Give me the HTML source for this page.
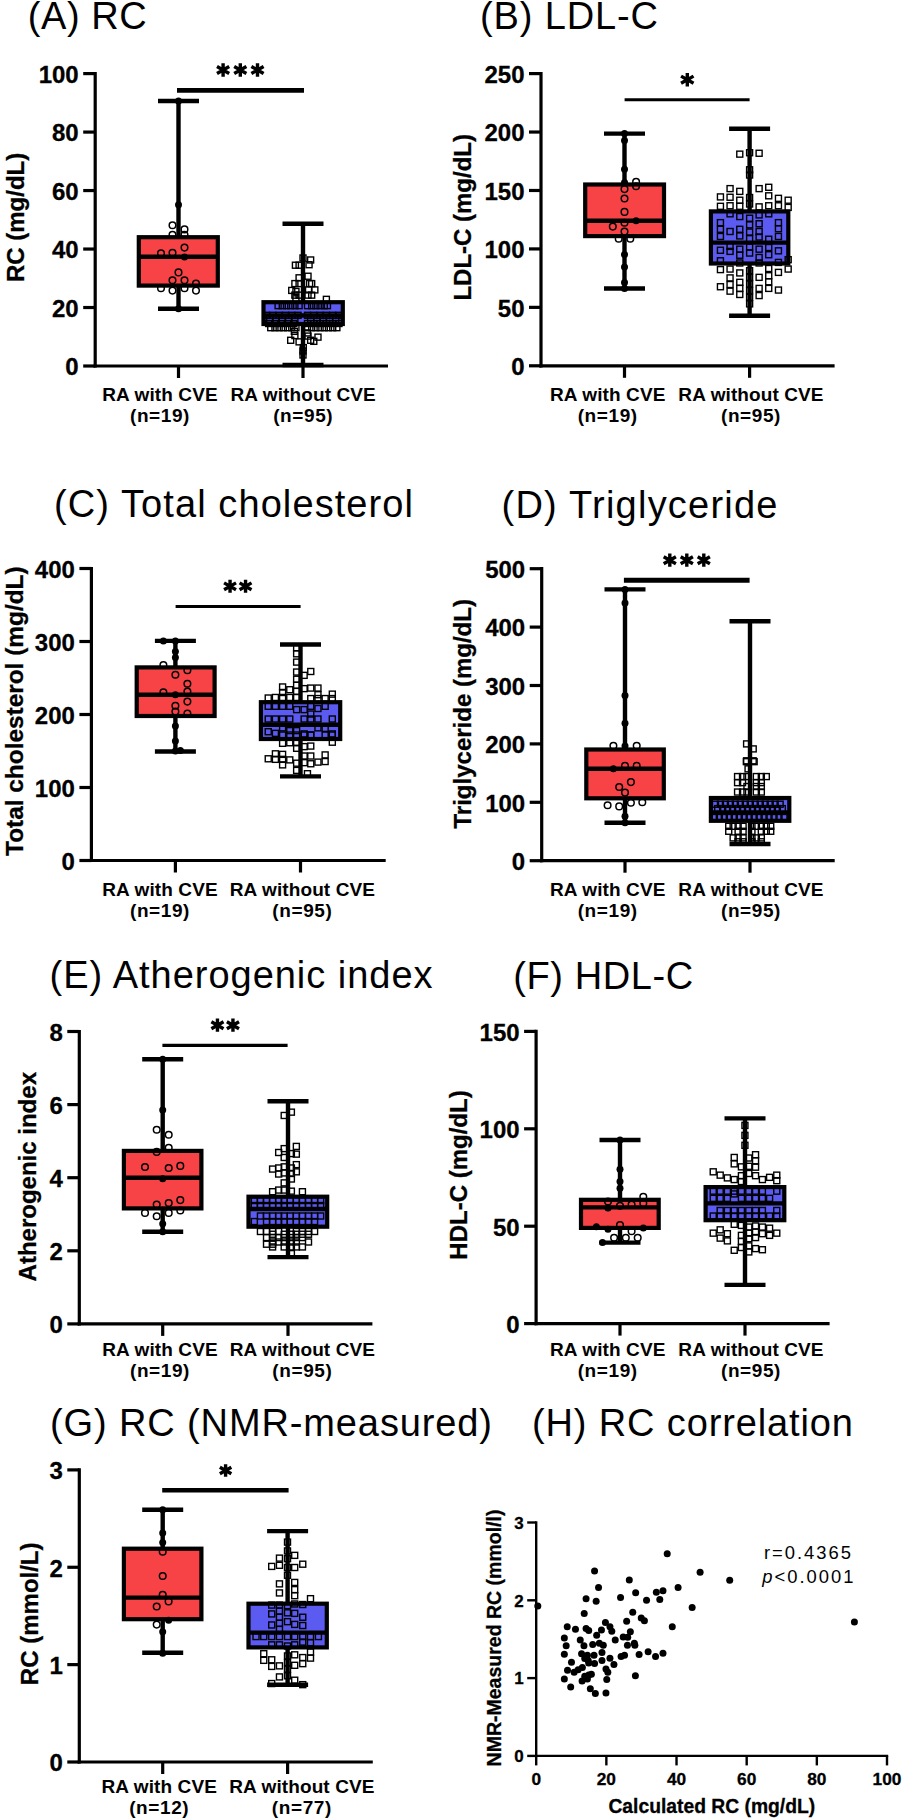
<!DOCTYPE html>
<html><head><meta charset="utf-8"><style>
html,body{margin:0;padding:0;background:#fff;}
svg{display:block;}
text{font-family:"Liberation Sans",sans-serif;fill:#000;}
text[font-weight=bold]{stroke:#000;stroke-width:0.3px;}
text.xl{stroke:none;}
</style></head><body>
<svg width="905" height="1820" viewBox="0 0 905 1820">
<rect width="905" height="1820" fill="#fff"/>
<text x="27.80" y="29.20" font-size="38" textLength="119.0" lengthAdjust="spacing">(A) RC</text>
<rect x="138.80" y="237.20" width="79.00" height="48.40" fill="#f74345"/>
<rect x="263.50" y="302.20" width="79.30" height="21.80" fill="#5b5bf2"/>
<circle cx="172.50" cy="225.30" r="3.3" fill="none" stroke="#000" stroke-width="1.5"/>
<circle cx="184.50" cy="229.40" r="3.3" fill="none" stroke="#000" stroke-width="1.5"/>
<circle cx="172.50" cy="234.80" r="3.3" fill="none" stroke="#000" stroke-width="1.5"/>
<circle cx="184.50" cy="234.80" r="3.3" fill="none" stroke="#000" stroke-width="1.5"/>
<circle cx="184.50" cy="247.60" r="3.3" fill="none" stroke="#000" stroke-width="1.5"/>
<circle cx="161.00" cy="253.30" r="3.3" fill="none" stroke="#000" stroke-width="1.5"/>
<circle cx="172.50" cy="252.70" r="3.3" fill="none" stroke="#000" stroke-width="1.5"/>
<circle cx="178.50" cy="272.40" r="3.3" fill="none" stroke="#000" stroke-width="1.5"/>
<circle cx="172.50" cy="280.30" r="3.3" fill="none" stroke="#000" stroke-width="1.5"/>
<circle cx="184.50" cy="280.30" r="3.3" fill="none" stroke="#000" stroke-width="1.5"/>
<circle cx="196.00" cy="283.60" r="3.3" fill="none" stroke="#000" stroke-width="1.5"/>
<circle cx="161.00" cy="288.20" r="3.3" fill="none" stroke="#000" stroke-width="1.5"/>
<circle cx="172.50" cy="290.60" r="3.3" fill="none" stroke="#000" stroke-width="1.5"/>
<circle cx="184.50" cy="288.20" r="3.3" fill="none" stroke="#000" stroke-width="1.5"/>
<circle cx="196.00" cy="290.60" r="3.3" fill="none" stroke="#000" stroke-width="1.5"/>
<circle cx="178.50" cy="101.00" r="3.5" fill="#000"/>
<circle cx="178.50" cy="204.80" r="3.5" fill="#000"/>
<circle cx="178.50" cy="308.70" r="3.5" fill="#000"/>
<circle cx="184.50" cy="257.10" r="3.5" fill="#000"/>
<rect x="307.64" y="256.97" width="6.0" height="6.0" fill="none" stroke="#000" stroke-width="1.4"/>
<rect x="292.42" y="262.22" width="6.0" height="6.0" fill="none" stroke="#000" stroke-width="1.4"/>
<rect x="296.09" y="262.22" width="6.0" height="6.0" fill="none" stroke="#000" stroke-width="1.4"/>
<rect x="306.06" y="261.70" width="6.0" height="6.0" fill="none" stroke="#000" stroke-width="1.4"/>
<rect x="296.09" y="274.82" width="6.0" height="6.0" fill="none" stroke="#000" stroke-width="1.4"/>
<rect x="305.01" y="273.24" width="6.0" height="6.0" fill="none" stroke="#000" stroke-width="1.4"/>
<rect x="291.89" y="280.59" width="6.0" height="6.0" fill="none" stroke="#000" stroke-width="1.4"/>
<rect x="296.09" y="280.59" width="6.0" height="6.0" fill="none" stroke="#000" stroke-width="1.4"/>
<rect x="306.59" y="280.59" width="6.0" height="6.0" fill="none" stroke="#000" stroke-width="1.4"/>
<rect x="308.69" y="280.59" width="6.0" height="6.0" fill="none" stroke="#000" stroke-width="1.4"/>
<rect x="288.74" y="287.42" width="6.0" height="6.0" fill="none" stroke="#000" stroke-width="1.4"/>
<rect x="292.94" y="288.47" width="6.0" height="6.0" fill="none" stroke="#000" stroke-width="1.4"/>
<rect x="305.54" y="286.89" width="6.0" height="6.0" fill="none" stroke="#000" stroke-width="1.4"/>
<rect x="311.84" y="286.89" width="6.0" height="6.0" fill="none" stroke="#000" stroke-width="1.4"/>
<rect x="291.89" y="292.14" width="6.0" height="6.0" fill="none" stroke="#000" stroke-width="1.4"/>
<rect x="296.09" y="292.14" width="6.0" height="6.0" fill="none" stroke="#000" stroke-width="1.4"/>
<rect x="305.01" y="292.14" width="6.0" height="6.0" fill="none" stroke="#000" stroke-width="1.4"/>
<rect x="308.69" y="292.14" width="6.0" height="6.0" fill="none" stroke="#000" stroke-width="1.4"/>
<rect x="292.94" y="295.81" width="6.0" height="6.0" fill="none" stroke="#000" stroke-width="1.4"/>
<rect x="323.38" y="296.34" width="6.0" height="6.0" fill="none" stroke="#000" stroke-width="1.4"/>
<rect x="291.37" y="328.36" width="6.0" height="6.0" fill="none" stroke="#000" stroke-width="1.4"/>
<rect x="304.49" y="329.93" width="6.0" height="6.0" fill="none" stroke="#000" stroke-width="1.4"/>
<rect x="291.89" y="332.56" width="6.0" height="6.0" fill="none" stroke="#000" stroke-width="1.4"/>
<rect x="305.01" y="333.08" width="6.0" height="6.0" fill="none" stroke="#000" stroke-width="1.4"/>
<rect x="287.69" y="337.28" width="6.0" height="6.0" fill="none" stroke="#000" stroke-width="1.4"/>
<rect x="296.09" y="338.85" width="6.0" height="6.0" fill="none" stroke="#000" stroke-width="1.4"/>
<rect x="307.64" y="337.28" width="6.0" height="6.0" fill="none" stroke="#000" stroke-width="1.4"/>
<rect x="314.99" y="334.13" width="6.0" height="6.0" fill="none" stroke="#000" stroke-width="1.4"/>
<rect x="310.79" y="338.33" width="6.0" height="6.0" fill="none" stroke="#000" stroke-width="1.4"/>
<rect x="300.29" y="344.63" width="6.0" height="6.0" fill="none" stroke="#000" stroke-width="1.4"/>
<rect x="275.09" y="302.64" width="6.0" height="6.0" fill="none" stroke="#000" stroke-width="1.4"/>
<rect x="279.29" y="302.64" width="6.0" height="6.0" fill="none" stroke="#000" stroke-width="1.4"/>
<rect x="283.49" y="302.64" width="6.0" height="6.0" fill="none" stroke="#000" stroke-width="1.4"/>
<rect x="287.69" y="302.64" width="6.0" height="6.0" fill="none" stroke="#000" stroke-width="1.4"/>
<rect x="291.89" y="302.64" width="6.0" height="6.0" fill="none" stroke="#000" stroke-width="1.4"/>
<rect x="296.09" y="302.64" width="6.0" height="6.0" fill="none" stroke="#000" stroke-width="1.4"/>
<rect x="304.49" y="302.64" width="6.0" height="6.0" fill="none" stroke="#000" stroke-width="1.4"/>
<rect x="308.69" y="302.64" width="6.0" height="6.0" fill="none" stroke="#000" stroke-width="1.4"/>
<rect x="312.89" y="302.64" width="6.0" height="6.0" fill="none" stroke="#000" stroke-width="1.4"/>
<rect x="317.09" y="302.64" width="6.0" height="6.0" fill="none" stroke="#000" stroke-width="1.4"/>
<rect x="321.28" y="302.64" width="6.0" height="6.0" fill="none" stroke="#000" stroke-width="1.4"/>
<rect x="324.43" y="302.64" width="6.0" height="6.0" fill="none" stroke="#000" stroke-width="1.4"/>
<rect x="263.55" y="312.29" width="6.0" height="6.0" fill="none" stroke="#000" stroke-width="1.4"/>
<rect x="269.85" y="312.29" width="6.0" height="6.0" fill="none" stroke="#000" stroke-width="1.4"/>
<rect x="276.14" y="312.29" width="6.0" height="6.0" fill="none" stroke="#000" stroke-width="1.4"/>
<rect x="282.44" y="312.29" width="6.0" height="6.0" fill="none" stroke="#000" stroke-width="1.4"/>
<rect x="288.74" y="312.29" width="6.0" height="6.0" fill="none" stroke="#000" stroke-width="1.4"/>
<rect x="295.04" y="312.29" width="6.0" height="6.0" fill="none" stroke="#000" stroke-width="1.4"/>
<rect x="304.49" y="312.29" width="6.0" height="6.0" fill="none" stroke="#000" stroke-width="1.4"/>
<rect x="310.79" y="312.29" width="6.0" height="6.0" fill="none" stroke="#000" stroke-width="1.4"/>
<rect x="317.09" y="312.29" width="6.0" height="6.0" fill="none" stroke="#000" stroke-width="1.4"/>
<rect x="323.38" y="312.29" width="6.0" height="6.0" fill="none" stroke="#000" stroke-width="1.4"/>
<rect x="329.68" y="312.29" width="6.0" height="6.0" fill="none" stroke="#000" stroke-width="1.4"/>
<rect x="335.98" y="312.29" width="6.0" height="6.0" fill="none" stroke="#000" stroke-width="1.4"/>
<rect x="266.70" y="316.28" width="6.0" height="6.0" fill="none" stroke="#000" stroke-width="1.4"/>
<rect x="273.00" y="316.28" width="6.0" height="6.0" fill="none" stroke="#000" stroke-width="1.4"/>
<rect x="279.29" y="316.28" width="6.0" height="6.0" fill="none" stroke="#000" stroke-width="1.4"/>
<rect x="285.59" y="316.28" width="6.0" height="6.0" fill="none" stroke="#000" stroke-width="1.4"/>
<rect x="291.89" y="316.28" width="6.0" height="6.0" fill="none" stroke="#000" stroke-width="1.4"/>
<rect x="307.64" y="316.28" width="6.0" height="6.0" fill="none" stroke="#000" stroke-width="1.4"/>
<rect x="313.94" y="316.28" width="6.0" height="6.0" fill="none" stroke="#000" stroke-width="1.4"/>
<rect x="320.23" y="316.28" width="6.0" height="6.0" fill="none" stroke="#000" stroke-width="1.4"/>
<rect x="326.53" y="316.28" width="6.0" height="6.0" fill="none" stroke="#000" stroke-width="1.4"/>
<rect x="332.83" y="316.28" width="6.0" height="6.0" fill="none" stroke="#000" stroke-width="1.4"/>
<rect x="265.65" y="320.48" width="6.0" height="6.0" fill="none" stroke="#000" stroke-width="1.4"/>
<rect x="271.95" y="320.48" width="6.0" height="6.0" fill="none" stroke="#000" stroke-width="1.4"/>
<rect x="278.24" y="320.48" width="6.0" height="6.0" fill="none" stroke="#000" stroke-width="1.4"/>
<rect x="284.54" y="320.48" width="6.0" height="6.0" fill="none" stroke="#000" stroke-width="1.4"/>
<rect x="290.84" y="320.48" width="6.0" height="6.0" fill="none" stroke="#000" stroke-width="1.4"/>
<rect x="304.49" y="320.48" width="6.0" height="6.0" fill="none" stroke="#000" stroke-width="1.4"/>
<rect x="310.79" y="320.48" width="6.0" height="6.0" fill="none" stroke="#000" stroke-width="1.4"/>
<rect x="317.09" y="320.48" width="6.0" height="6.0" fill="none" stroke="#000" stroke-width="1.4"/>
<rect x="323.38" y="320.48" width="6.0" height="6.0" fill="none" stroke="#000" stroke-width="1.4"/>
<rect x="329.68" y="320.48" width="6.0" height="6.0" fill="none" stroke="#000" stroke-width="1.4"/>
<rect x="335.98" y="320.48" width="6.0" height="6.0" fill="none" stroke="#000" stroke-width="1.4"/>
<rect x="267.75" y="324.68" width="6.0" height="6.0" fill="none" stroke="#000" stroke-width="1.4"/>
<rect x="271.95" y="324.68" width="6.0" height="6.0" fill="none" stroke="#000" stroke-width="1.4"/>
<rect x="276.14" y="324.68" width="6.0" height="6.0" fill="none" stroke="#000" stroke-width="1.4"/>
<rect x="280.34" y="324.68" width="6.0" height="6.0" fill="none" stroke="#000" stroke-width="1.4"/>
<rect x="284.54" y="324.68" width="6.0" height="6.0" fill="none" stroke="#000" stroke-width="1.4"/>
<rect x="288.74" y="324.68" width="6.0" height="6.0" fill="none" stroke="#000" stroke-width="1.4"/>
<rect x="292.94" y="324.68" width="6.0" height="6.0" fill="none" stroke="#000" stroke-width="1.4"/>
<rect x="304.49" y="324.68" width="6.0" height="6.0" fill="none" stroke="#000" stroke-width="1.4"/>
<rect x="308.69" y="324.68" width="6.0" height="6.0" fill="none" stroke="#000" stroke-width="1.4"/>
<rect x="312.89" y="324.68" width="6.0" height="6.0" fill="none" stroke="#000" stroke-width="1.4"/>
<rect x="317.09" y="324.68" width="6.0" height="6.0" fill="none" stroke="#000" stroke-width="1.4"/>
<rect x="321.28" y="324.68" width="6.0" height="6.0" fill="none" stroke="#000" stroke-width="1.4"/>
<rect x="325.48" y="324.68" width="6.0" height="6.0" fill="none" stroke="#000" stroke-width="1.4"/>
<rect x="329.68" y="324.68" width="6.0" height="6.0" fill="none" stroke="#000" stroke-width="1.4"/>
<rect x="333.88" y="324.68" width="6.0" height="6.0" fill="none" stroke="#000" stroke-width="1.4"/>
<rect x="300.00" y="348.00" width="6.0" height="6.0" fill="none" stroke="#000" stroke-width="1.4"/>
<rect x="300.00" y="352.00" width="6.0" height="6.0" fill="none" stroke="#000" stroke-width="1.4"/>
<rect x="300.00" y="255.00" width="6.0" height="6.0" fill="none" stroke="#000" stroke-width="1.4"/>
<rect x="138.80" y="237.20" width="79.00" height="48.40" fill="none" stroke="#000" stroke-width="4.2"/>
<line x1="138.80" y1="256.70" x2="217.80" y2="256.70" stroke="#000" stroke-width="4.4" stroke-linecap="butt"/>
<line x1="178.50" y1="101.00" x2="178.50" y2="237.20" stroke="#000" stroke-width="4.4" stroke-linecap="butt"/>
<line x1="178.50" y1="285.60" x2="178.50" y2="308.70" stroke="#000" stroke-width="4.4" stroke-linecap="butt"/>
<line x1="158.00" y1="101.00" x2="199.00" y2="101.00" stroke="#000" stroke-width="4.4" stroke-linecap="butt"/>
<line x1="158.00" y1="308.70" x2="199.00" y2="308.70" stroke="#000" stroke-width="4.4" stroke-linecap="butt"/>
<rect x="263.50" y="302.20" width="79.30" height="21.80" fill="none" stroke="#000" stroke-width="4.2"/>
<line x1="263.50" y1="315.50" x2="342.80" y2="315.50" stroke="#000" stroke-width="4.4" stroke-linecap="butt"/>
<line x1="303.00" y1="223.70" x2="303.00" y2="302.20" stroke="#000" stroke-width="4.4" stroke-linecap="butt"/>
<line x1="303.00" y1="324.00" x2="303.00" y2="365.00" stroke="#000" stroke-width="4.4" stroke-linecap="butt"/>
<line x1="282.50" y1="223.70" x2="323.50" y2="223.70" stroke="#000" stroke-width="4.4" stroke-linecap="butt"/>
<line x1="282.50" y1="365.00" x2="323.50" y2="365.00" stroke="#000" stroke-width="4.4" stroke-linecap="butt"/>
<line x1="95.20" y1="72.00" x2="95.20" y2="367.60" stroke="#000" stroke-width="3.2" stroke-linecap="butt"/>
<line x1="93.60" y1="366.00" x2="388.00" y2="366.00" stroke="#000" stroke-width="3.2" stroke-linecap="butt"/>
<line x1="83.20" y1="366.00" x2="95.20" y2="366.00" stroke="#000" stroke-width="3.2" stroke-linecap="butt"/>
<text x="78.70" y="375.36" font-size="24" font-weight="bold" text-anchor="end" >0</text>
<line x1="83.20" y1="307.52" x2="95.20" y2="307.52" stroke="#000" stroke-width="3.2" stroke-linecap="butt"/>
<text x="78.70" y="316.88" font-size="24" font-weight="bold" text-anchor="end" >20</text>
<line x1="83.20" y1="249.04" x2="95.20" y2="249.04" stroke="#000" stroke-width="3.2" stroke-linecap="butt"/>
<text x="78.70" y="258.40" font-size="24" font-weight="bold" text-anchor="end" >40</text>
<line x1="83.20" y1="190.56" x2="95.20" y2="190.56" stroke="#000" stroke-width="3.2" stroke-linecap="butt"/>
<text x="78.70" y="199.92" font-size="24" font-weight="bold" text-anchor="end" >60</text>
<line x1="83.20" y1="132.08" x2="95.20" y2="132.08" stroke="#000" stroke-width="3.2" stroke-linecap="butt"/>
<text x="78.70" y="141.44" font-size="24" font-weight="bold" text-anchor="end" >80</text>
<line x1="83.20" y1="73.60" x2="95.20" y2="73.60" stroke="#000" stroke-width="3.2" stroke-linecap="butt"/>
<text x="78.70" y="82.96" font-size="24" font-weight="bold" text-anchor="end" >100</text>
<line x1="178.50" y1="366.00" x2="178.50" y2="378.00" stroke="#000" stroke-width="3.2" stroke-linecap="butt"/>
<line x1="303.00" y1="366.00" x2="303.00" y2="378.00" stroke="#000" stroke-width="3.2" stroke-linecap="butt"/>
<text x="24.10" y="217.40" font-size="24" font-weight="bold" text-anchor="middle" transform="rotate(-90 24.10 217.40)">RC (mg/dL)</text>
<text x="160.00" y="401.30" font-size="19" font-weight="bold" text-anchor="middle" class="xl" letter-spacing="0.1">RA with CVE</text>
<text x="160.00" y="422.30" font-size="19" font-weight="bold" text-anchor="middle" class="xl" letter-spacing="0.6">(n=19)</text>
<text x="303.20" y="401.30" font-size="19" font-weight="bold" text-anchor="middle" class="xl" letter-spacing="0.1">RA without CVE</text>
<text x="303.20" y="422.30" font-size="19" font-weight="bold" text-anchor="middle" class="xl" letter-spacing="0.6">(n=95)</text>
<line x1="177.00" y1="90.40" x2="304.00" y2="90.40" stroke="#000" stroke-width="4.6" stroke-linecap="butt"/>
<path d="M223.10,63.35L223.10,76.65M217.00,66.48L229.20,73.52M217.00,73.52L229.20,66.48" stroke="#000" stroke-width="3.4" fill="none"/>
<path d="M240.30,63.35L240.30,76.65M234.20,66.48L246.40,73.52M234.20,73.52L246.40,66.48" stroke="#000" stroke-width="3.4" fill="none"/>
<path d="M257.50,63.35L257.50,76.65M251.40,66.48L263.60,73.52M251.40,73.52L263.60,66.48" stroke="#000" stroke-width="3.4" fill="none"/>
<text x="480.00" y="28.50" font-size="38" textLength="178.0" lengthAdjust="spacing">(B) LDL-C</text>
<rect x="585.20" y="184.50" width="78.80" height="51.60" fill="#f74345"/>
<rect x="710.90" y="211.40" width="77.40" height="52.10" fill="#5b5bf2"/>
<circle cx="624.50" cy="189.10" r="3.3" fill="none" stroke="#000" stroke-width="1.5"/>
<circle cx="624.50" cy="198.50" r="3.3" fill="none" stroke="#000" stroke-width="1.5"/>
<circle cx="624.50" cy="211.90" r="3.3" fill="none" stroke="#000" stroke-width="1.5"/>
<circle cx="624.50" cy="222.80" r="3.3" fill="none" stroke="#000" stroke-width="1.5"/>
<circle cx="612.80" cy="226.60" r="3.3" fill="none" stroke="#000" stroke-width="1.5"/>
<circle cx="624.50" cy="231.60" r="3.3" fill="none" stroke="#000" stroke-width="1.5"/>
<circle cx="636.10" cy="181.90" r="3.3" fill="none" stroke="#000" stroke-width="1.5"/>
<circle cx="636.10" cy="186.30" r="3.3" fill="none" stroke="#000" stroke-width="1.5"/>
<circle cx="618.70" cy="238.80" r="3.3" fill="none" stroke="#000" stroke-width="1.5"/>
<circle cx="630.30" cy="238.80" r="3.3" fill="none" stroke="#000" stroke-width="1.5"/>
<circle cx="624.50" cy="133.60" r="3.5" fill="#000"/>
<circle cx="624.50" cy="140.40" r="3.5" fill="#000"/>
<circle cx="624.50" cy="169.20" r="3.5" fill="#000"/>
<circle cx="624.50" cy="254.60" r="3.5" fill="#000"/>
<circle cx="624.50" cy="267.00" r="3.5" fill="#000"/>
<circle cx="624.50" cy="282.40" r="3.5" fill="#000"/>
<circle cx="624.50" cy="288.50" r="3.5" fill="#000"/>
<circle cx="624.50" cy="182.40" r="3.5" fill="#000"/>
<circle cx="636.10" cy="220.80" r="3.5" fill="#000"/>
<rect x="736.78" y="151.14" width="6.0" height="6.0" fill="none" stroke="#000" stroke-width="1.4"/>
<rect x="756.12" y="150.26" width="6.0" height="6.0" fill="none" stroke="#000" stroke-width="1.4"/>
<rect x="727.06" y="185.62" width="6.0" height="6.0" fill="none" stroke="#000" stroke-width="1.4"/>
<rect x="736.78" y="188.38" width="6.0" height="6.0" fill="none" stroke="#000" stroke-width="1.4"/>
<rect x="756.12" y="185.62" width="6.0" height="6.0" fill="none" stroke="#000" stroke-width="1.4"/>
<rect x="765.73" y="184.29" width="6.0" height="6.0" fill="none" stroke="#000" stroke-width="1.4"/>
<rect x="717.44" y="193.91" width="6.0" height="6.0" fill="none" stroke="#000" stroke-width="1.4"/>
<rect x="727.06" y="194.24" width="6.0" height="6.0" fill="none" stroke="#000" stroke-width="1.4"/>
<rect x="736.78" y="197.22" width="6.0" height="6.0" fill="none" stroke="#000" stroke-width="1.4"/>
<rect x="765.73" y="192.80" width="6.0" height="6.0" fill="none" stroke="#000" stroke-width="1.4"/>
<rect x="775.45" y="195.34" width="6.0" height="6.0" fill="none" stroke="#000" stroke-width="1.4"/>
<rect x="785.18" y="197.22" width="6.0" height="6.0" fill="none" stroke="#000" stroke-width="1.4"/>
<rect x="717.44" y="203.30" width="6.0" height="6.0" fill="none" stroke="#000" stroke-width="1.4"/>
<rect x="727.06" y="202.75" width="6.0" height="6.0" fill="none" stroke="#000" stroke-width="1.4"/>
<rect x="736.78" y="203.30" width="6.0" height="6.0" fill="none" stroke="#000" stroke-width="1.4"/>
<rect x="756.12" y="203.85" width="6.0" height="6.0" fill="none" stroke="#000" stroke-width="1.4"/>
<rect x="765.73" y="202.75" width="6.0" height="6.0" fill="none" stroke="#000" stroke-width="1.4"/>
<rect x="775.45" y="202.75" width="6.0" height="6.0" fill="none" stroke="#000" stroke-width="1.4"/>
<rect x="785.18" y="204.40" width="6.0" height="6.0" fill="none" stroke="#000" stroke-width="1.4"/>
<rect x="717.44" y="219.65" width="6.0" height="6.0" fill="none" stroke="#000" stroke-width="1.4"/>
<rect x="717.44" y="226.28" width="6.0" height="6.0" fill="none" stroke="#000" stroke-width="1.4"/>
<rect x="717.44" y="233.46" width="6.0" height="6.0" fill="none" stroke="#000" stroke-width="1.4"/>
<rect x="717.44" y="247.28" width="6.0" height="6.0" fill="none" stroke="#000" stroke-width="1.4"/>
<rect x="717.44" y="257.77" width="6.0" height="6.0" fill="none" stroke="#000" stroke-width="1.4"/>
<rect x="727.06" y="210.81" width="6.0" height="6.0" fill="none" stroke="#000" stroke-width="1.4"/>
<rect x="727.06" y="228.49" width="6.0" height="6.0" fill="none" stroke="#000" stroke-width="1.4"/>
<rect x="727.06" y="248.38" width="6.0" height="6.0" fill="none" stroke="#000" stroke-width="1.4"/>
<rect x="727.06" y="243.41" width="6.0" height="6.0" fill="none" stroke="#000" stroke-width="1.4"/>
<rect x="736.78" y="213.57" width="6.0" height="6.0" fill="none" stroke="#000" stroke-width="1.4"/>
<rect x="736.78" y="226.28" width="6.0" height="6.0" fill="none" stroke="#000" stroke-width="1.4"/>
<rect x="736.78" y="232.91" width="6.0" height="6.0" fill="none" stroke="#000" stroke-width="1.4"/>
<rect x="736.78" y="246.17" width="6.0" height="6.0" fill="none" stroke="#000" stroke-width="1.4"/>
<rect x="736.78" y="252.25" width="6.0" height="6.0" fill="none" stroke="#000" stroke-width="1.4"/>
<rect x="736.78" y="259.98" width="6.0" height="6.0" fill="none" stroke="#000" stroke-width="1.4"/>
<rect x="746.61" y="215.23" width="6.0" height="6.0" fill="none" stroke="#000" stroke-width="1.4"/>
<rect x="746.61" y="221.86" width="6.0" height="6.0" fill="none" stroke="#000" stroke-width="1.4"/>
<rect x="746.61" y="229.04" width="6.0" height="6.0" fill="none" stroke="#000" stroke-width="1.4"/>
<rect x="746.61" y="235.67" width="6.0" height="6.0" fill="none" stroke="#000" stroke-width="1.4"/>
<rect x="746.61" y="243.96" width="6.0" height="6.0" fill="none" stroke="#000" stroke-width="1.4"/>
<rect x="746.61" y="250.04" width="6.0" height="6.0" fill="none" stroke="#000" stroke-width="1.4"/>
<rect x="756.12" y="211.92" width="6.0" height="6.0" fill="none" stroke="#000" stroke-width="1.4"/>
<rect x="756.12" y="220.76" width="6.0" height="6.0" fill="none" stroke="#000" stroke-width="1.4"/>
<rect x="756.12" y="228.49" width="6.0" height="6.0" fill="none" stroke="#000" stroke-width="1.4"/>
<rect x="756.12" y="234.02" width="6.0" height="6.0" fill="none" stroke="#000" stroke-width="1.4"/>
<rect x="756.12" y="246.17" width="6.0" height="6.0" fill="none" stroke="#000" stroke-width="1.4"/>
<rect x="756.12" y="254.46" width="6.0" height="6.0" fill="none" stroke="#000" stroke-width="1.4"/>
<rect x="756.12" y="259.98" width="6.0" height="6.0" fill="none" stroke="#000" stroke-width="1.4"/>
<rect x="765.73" y="210.81" width="6.0" height="6.0" fill="none" stroke="#000" stroke-width="1.4"/>
<rect x="765.73" y="236.23" width="6.0" height="6.0" fill="none" stroke="#000" stroke-width="1.4"/>
<rect x="765.73" y="244.51" width="6.0" height="6.0" fill="none" stroke="#000" stroke-width="1.4"/>
<rect x="765.73" y="251.70" width="6.0" height="6.0" fill="none" stroke="#000" stroke-width="1.4"/>
<rect x="775.45" y="219.65" width="6.0" height="6.0" fill="none" stroke="#000" stroke-width="1.4"/>
<rect x="775.45" y="225.73" width="6.0" height="6.0" fill="none" stroke="#000" stroke-width="1.4"/>
<rect x="775.45" y="233.46" width="6.0" height="6.0" fill="none" stroke="#000" stroke-width="1.4"/>
<rect x="775.45" y="247.83" width="6.0" height="6.0" fill="none" stroke="#000" stroke-width="1.4"/>
<rect x="775.45" y="259.43" width="6.0" height="6.0" fill="none" stroke="#000" stroke-width="1.4"/>
<rect x="785.18" y="256.67" width="6.0" height="6.0" fill="none" stroke="#000" stroke-width="1.4"/>
<rect x="717.44" y="266.61" width="6.0" height="6.0" fill="none" stroke="#000" stroke-width="1.4"/>
<rect x="717.44" y="283.74" width="6.0" height="6.0" fill="none" stroke="#000" stroke-width="1.4"/>
<rect x="727.06" y="266.06" width="6.0" height="6.0" fill="none" stroke="#000" stroke-width="1.4"/>
<rect x="727.06" y="274.90" width="6.0" height="6.0" fill="none" stroke="#000" stroke-width="1.4"/>
<rect x="727.06" y="281.53" width="6.0" height="6.0" fill="none" stroke="#000" stroke-width="1.4"/>
<rect x="727.06" y="288.16" width="6.0" height="6.0" fill="none" stroke="#000" stroke-width="1.4"/>
<rect x="736.78" y="269.93" width="6.0" height="6.0" fill="none" stroke="#000" stroke-width="1.4"/>
<rect x="736.78" y="279.32" width="6.0" height="6.0" fill="none" stroke="#000" stroke-width="1.4"/>
<rect x="736.78" y="285.40" width="6.0" height="6.0" fill="none" stroke="#000" stroke-width="1.4"/>
<rect x="736.78" y="291.48" width="6.0" height="6.0" fill="none" stroke="#000" stroke-width="1.4"/>
<rect x="756.12" y="274.35" width="6.0" height="6.0" fill="none" stroke="#000" stroke-width="1.4"/>
<rect x="756.12" y="285.40" width="6.0" height="6.0" fill="none" stroke="#000" stroke-width="1.4"/>
<rect x="756.12" y="292.58" width="6.0" height="6.0" fill="none" stroke="#000" stroke-width="1.4"/>
<rect x="765.73" y="265.51" width="6.0" height="6.0" fill="none" stroke="#000" stroke-width="1.4"/>
<rect x="765.73" y="272.69" width="6.0" height="6.0" fill="none" stroke="#000" stroke-width="1.4"/>
<rect x="765.73" y="278.77" width="6.0" height="6.0" fill="none" stroke="#000" stroke-width="1.4"/>
<rect x="765.73" y="285.40" width="6.0" height="6.0" fill="none" stroke="#000" stroke-width="1.4"/>
<rect x="775.45" y="269.38" width="6.0" height="6.0" fill="none" stroke="#000" stroke-width="1.4"/>
<rect x="775.45" y="287.06" width="6.0" height="6.0" fill="none" stroke="#000" stroke-width="1.4"/>
<rect x="785.18" y="266.06" width="6.0" height="6.0" fill="none" stroke="#000" stroke-width="1.4"/>
<rect x="746.61" y="267.72" width="6.0" height="6.0" fill="none" stroke="#000" stroke-width="1.4"/>
<rect x="746.61" y="274.35" width="6.0" height="6.0" fill="none" stroke="#000" stroke-width="1.4"/>
<rect x="746.61" y="280.98" width="6.0" height="6.0" fill="none" stroke="#000" stroke-width="1.4"/>
<rect x="746.61" y="287.61" width="6.0" height="6.0" fill="none" stroke="#000" stroke-width="1.4"/>
<rect x="746.61" y="294.24" width="6.0" height="6.0" fill="none" stroke="#000" stroke-width="1.4"/>
<rect x="746.61" y="300.87" width="6.0" height="6.0" fill="none" stroke="#000" stroke-width="1.4"/>
<rect x="746.60" y="149.70" width="6.0" height="6.0" fill="none" stroke="#000" stroke-width="1.4"/>
<rect x="746.60" y="166.80" width="6.0" height="6.0" fill="none" stroke="#000" stroke-width="1.4"/>
<rect x="746.60" y="172.00" width="6.0" height="6.0" fill="none" stroke="#000" stroke-width="1.4"/>
<rect x="746.60" y="194.50" width="6.0" height="6.0" fill="none" stroke="#000" stroke-width="1.4"/>
<rect x="746.60" y="201.00" width="6.0" height="6.0" fill="none" stroke="#000" stroke-width="1.4"/>
<rect x="585.20" y="184.50" width="78.80" height="51.60" fill="none" stroke="#000" stroke-width="4.2"/>
<line x1="585.20" y1="220.80" x2="664.00" y2="220.80" stroke="#000" stroke-width="4.4" stroke-linecap="butt"/>
<line x1="624.50" y1="133.60" x2="624.50" y2="184.50" stroke="#000" stroke-width="4.4" stroke-linecap="butt"/>
<line x1="624.50" y1="236.10" x2="624.50" y2="288.50" stroke="#000" stroke-width="4.4" stroke-linecap="butt"/>
<line x1="604.00" y1="133.60" x2="645.00" y2="133.60" stroke="#000" stroke-width="4.4" stroke-linecap="butt"/>
<line x1="604.00" y1="288.50" x2="645.00" y2="288.50" stroke="#000" stroke-width="4.4" stroke-linecap="butt"/>
<rect x="710.90" y="211.40" width="77.40" height="52.10" fill="none" stroke="#000" stroke-width="4.2"/>
<line x1="710.90" y1="242.60" x2="788.30" y2="242.60" stroke="#000" stroke-width="4.4" stroke-linecap="butt"/>
<line x1="749.60" y1="128.80" x2="749.60" y2="211.40" stroke="#000" stroke-width="4.4" stroke-linecap="butt"/>
<line x1="749.60" y1="263.50" x2="749.60" y2="315.80" stroke="#000" stroke-width="4.4" stroke-linecap="butt"/>
<line x1="729.10" y1="128.80" x2="770.10" y2="128.80" stroke="#000" stroke-width="4.4" stroke-linecap="butt"/>
<line x1="729.10" y1="315.80" x2="770.10" y2="315.80" stroke="#000" stroke-width="4.4" stroke-linecap="butt"/>
<line x1="541.00" y1="72.00" x2="541.00" y2="367.40" stroke="#000" stroke-width="3.2" stroke-linecap="butt"/>
<line x1="539.40" y1="365.80" x2="834.60" y2="365.80" stroke="#000" stroke-width="3.2" stroke-linecap="butt"/>
<line x1="529.00" y1="365.80" x2="541.00" y2="365.80" stroke="#000" stroke-width="3.2" stroke-linecap="butt"/>
<text x="524.50" y="375.16" font-size="24" font-weight="bold" text-anchor="end" >0</text>
<line x1="529.00" y1="307.36" x2="541.00" y2="307.36" stroke="#000" stroke-width="3.2" stroke-linecap="butt"/>
<text x="524.50" y="316.72" font-size="24" font-weight="bold" text-anchor="end" >50</text>
<line x1="529.00" y1="248.92" x2="541.00" y2="248.92" stroke="#000" stroke-width="3.2" stroke-linecap="butt"/>
<text x="524.50" y="258.28" font-size="24" font-weight="bold" text-anchor="end" >100</text>
<line x1="529.00" y1="190.48" x2="541.00" y2="190.48" stroke="#000" stroke-width="3.2" stroke-linecap="butt"/>
<text x="524.50" y="199.84" font-size="24" font-weight="bold" text-anchor="end" >150</text>
<line x1="529.00" y1="132.04" x2="541.00" y2="132.04" stroke="#000" stroke-width="3.2" stroke-linecap="butt"/>
<text x="524.50" y="141.40" font-size="24" font-weight="bold" text-anchor="end" >200</text>
<line x1="529.00" y1="73.60" x2="541.00" y2="73.60" stroke="#000" stroke-width="3.2" stroke-linecap="butt"/>
<text x="524.50" y="82.96" font-size="24" font-weight="bold" text-anchor="end" >250</text>
<line x1="624.50" y1="365.80" x2="624.50" y2="377.80" stroke="#000" stroke-width="3.2" stroke-linecap="butt"/>
<line x1="749.60" y1="365.80" x2="749.60" y2="377.80" stroke="#000" stroke-width="3.2" stroke-linecap="butt"/>
<text x="471.50" y="217.30" font-size="24" font-weight="bold" text-anchor="middle" transform="rotate(-90 471.50 217.30)">LDL-C (mg/dL)</text>
<text x="607.70" y="401.00" font-size="19" font-weight="bold" text-anchor="middle" class="xl" letter-spacing="0.1">RA with CVE</text>
<text x="607.70" y="422.10" font-size="19" font-weight="bold" text-anchor="middle" class="xl" letter-spacing="0.6">(n=19)</text>
<text x="751.00" y="401.00" font-size="19" font-weight="bold" text-anchor="middle" class="xl" letter-spacing="0.1">RA without CVE</text>
<text x="751.00" y="422.10" font-size="19" font-weight="bold" text-anchor="middle" class="xl" letter-spacing="0.6">(n=95)</text>
<line x1="624.60" y1="99.80" x2="749.60" y2="99.80" stroke="#000" stroke-width="3.0" stroke-linecap="butt"/>
<path d="M687.30,72.90L687.30,86.50M681.06,76.10L693.54,83.30M681.06,83.30L693.54,76.10" stroke="#000" stroke-width="3.4" fill="none"/>
<text x="54.00" y="517.00" font-size="38" textLength="359.0" lengthAdjust="spacing">(C) Total cholesterol</text>
<rect x="136.70" y="667.40" width="77.90" height="48.60" fill="#f74345"/>
<rect x="260.90" y="702.20" width="79.30" height="36.80" fill="#5b5bf2"/>
<circle cx="163.40" cy="665.00" r="3.3" fill="none" stroke="#000" stroke-width="1.5"/>
<circle cx="187.40" cy="670.30" r="3.3" fill="none" stroke="#000" stroke-width="1.5"/>
<circle cx="175.40" cy="674.70" r="3.3" fill="none" stroke="#000" stroke-width="1.5"/>
<circle cx="163.40" cy="692.20" r="3.3" fill="none" stroke="#000" stroke-width="1.5"/>
<circle cx="187.40" cy="691.60" r="3.3" fill="none" stroke="#000" stroke-width="1.5"/>
<circle cx="187.40" cy="701.60" r="3.3" fill="none" stroke="#000" stroke-width="1.5"/>
<circle cx="175.40" cy="705.70" r="3.3" fill="none" stroke="#000" stroke-width="1.5"/>
<circle cx="175.40" cy="711.50" r="3.3" fill="none" stroke="#000" stroke-width="1.5"/>
<circle cx="187.40" cy="713.50" r="3.3" fill="none" stroke="#000" stroke-width="1.5"/>
<circle cx="187.40" cy="683.80" r="3.3" fill="none" stroke="#000" stroke-width="1.5"/>
<circle cx="175.40" cy="640.90" r="3.5" fill="#000"/>
<circle cx="163.40" cy="640.90" r="3.5" fill="#000"/>
<circle cx="175.40" cy="651.40" r="3.5" fill="#000"/>
<circle cx="175.40" cy="657.40" r="3.5" fill="#000"/>
<circle cx="175.40" cy="694.80" r="3.5" fill="#000"/>
<circle cx="175.40" cy="726.00" r="3.5" fill="#000"/>
<circle cx="175.40" cy="741.00" r="3.5" fill="#000"/>
<circle cx="175.40" cy="751.00" r="3.5" fill="#000"/>
<circle cx="180.40" cy="750.50" r="3.5" fill="#000"/>
<rect x="293.63" y="644.73" width="6.0" height="6.0" fill="none" stroke="#000" stroke-width="1.4"/>
<rect x="293.63" y="650.81" width="6.0" height="6.0" fill="none" stroke="#000" stroke-width="1.4"/>
<rect x="293.63" y="659.10" width="6.0" height="6.0" fill="none" stroke="#000" stroke-width="1.4"/>
<rect x="293.63" y="669.04" width="6.0" height="6.0" fill="none" stroke="#000" stroke-width="1.4"/>
<rect x="301.14" y="672.36" width="6.0" height="6.0" fill="none" stroke="#000" stroke-width="1.4"/>
<rect x="307.77" y="668.49" width="6.0" height="6.0" fill="none" stroke="#000" stroke-width="1.4"/>
<rect x="293.63" y="676.23" width="6.0" height="6.0" fill="none" stroke="#000" stroke-width="1.4"/>
<rect x="279.60" y="683.96" width="6.0" height="6.0" fill="none" stroke="#000" stroke-width="1.4"/>
<rect x="286.78" y="686.72" width="6.0" height="6.0" fill="none" stroke="#000" stroke-width="1.4"/>
<rect x="293.63" y="682.30" width="6.0" height="6.0" fill="none" stroke="#000" stroke-width="1.4"/>
<rect x="293.63" y="688.38" width="6.0" height="6.0" fill="none" stroke="#000" stroke-width="1.4"/>
<rect x="301.14" y="685.62" width="6.0" height="6.0" fill="none" stroke="#000" stroke-width="1.4"/>
<rect x="307.77" y="685.07" width="6.0" height="6.0" fill="none" stroke="#000" stroke-width="1.4"/>
<rect x="314.96" y="685.07" width="6.0" height="6.0" fill="none" stroke="#000" stroke-width="1.4"/>
<rect x="279.60" y="689.49" width="6.0" height="6.0" fill="none" stroke="#000" stroke-width="1.4"/>
<rect x="314.96" y="691.70" width="6.0" height="6.0" fill="none" stroke="#000" stroke-width="1.4"/>
<rect x="329.32" y="691.14" width="6.0" height="6.0" fill="none" stroke="#000" stroke-width="1.4"/>
<rect x="265.23" y="695.01" width="6.0" height="6.0" fill="none" stroke="#000" stroke-width="1.4"/>
<rect x="272.41" y="694.46" width="6.0" height="6.0" fill="none" stroke="#000" stroke-width="1.4"/>
<rect x="279.60" y="694.46" width="6.0" height="6.0" fill="none" stroke="#000" stroke-width="1.4"/>
<rect x="286.78" y="694.46" width="6.0" height="6.0" fill="none" stroke="#000" stroke-width="1.4"/>
<rect x="293.63" y="694.46" width="6.0" height="6.0" fill="none" stroke="#000" stroke-width="1.4"/>
<rect x="307.77" y="695.56" width="6.0" height="6.0" fill="none" stroke="#000" stroke-width="1.4"/>
<rect x="314.96" y="695.56" width="6.0" height="6.0" fill="none" stroke="#000" stroke-width="1.4"/>
<rect x="322.14" y="695.56" width="6.0" height="6.0" fill="none" stroke="#000" stroke-width="1.4"/>
<rect x="329.32" y="695.56" width="6.0" height="6.0" fill="none" stroke="#000" stroke-width="1.4"/>
<rect x="265.23" y="703.30" width="6.0" height="6.0" fill="none" stroke="#000" stroke-width="1.4"/>
<rect x="272.41" y="703.30" width="6.0" height="6.0" fill="none" stroke="#000" stroke-width="1.4"/>
<rect x="279.60" y="703.30" width="6.0" height="6.0" fill="none" stroke="#000" stroke-width="1.4"/>
<rect x="286.78" y="703.30" width="6.0" height="6.0" fill="none" stroke="#000" stroke-width="1.4"/>
<rect x="307.77" y="703.30" width="6.0" height="6.0" fill="none" stroke="#000" stroke-width="1.4"/>
<rect x="322.14" y="703.30" width="6.0" height="6.0" fill="none" stroke="#000" stroke-width="1.4"/>
<rect x="293.63" y="706.61" width="6.0" height="6.0" fill="none" stroke="#000" stroke-width="1.4"/>
<rect x="301.14" y="706.61" width="6.0" height="6.0" fill="none" stroke="#000" stroke-width="1.4"/>
<rect x="314.96" y="705.51" width="6.0" height="6.0" fill="none" stroke="#000" stroke-width="1.4"/>
<rect x="265.23" y="716.01" width="6.0" height="6.0" fill="none" stroke="#000" stroke-width="1.4"/>
<rect x="272.41" y="716.01" width="6.0" height="6.0" fill="none" stroke="#000" stroke-width="1.4"/>
<rect x="279.60" y="716.01" width="6.0" height="6.0" fill="none" stroke="#000" stroke-width="1.4"/>
<rect x="286.78" y="716.01" width="6.0" height="6.0" fill="none" stroke="#000" stroke-width="1.4"/>
<rect x="301.14" y="716.01" width="6.0" height="6.0" fill="none" stroke="#000" stroke-width="1.4"/>
<rect x="307.77" y="716.01" width="6.0" height="6.0" fill="none" stroke="#000" stroke-width="1.4"/>
<rect x="314.96" y="716.01" width="6.0" height="6.0" fill="none" stroke="#000" stroke-width="1.4"/>
<rect x="329.32" y="716.01" width="6.0" height="6.0" fill="none" stroke="#000" stroke-width="1.4"/>
<rect x="307.77" y="711.03" width="6.0" height="6.0" fill="none" stroke="#000" stroke-width="1.4"/>
<rect x="265.23" y="728.71" width="6.0" height="6.0" fill="none" stroke="#000" stroke-width="1.4"/>
<rect x="272.41" y="730.37" width="6.0" height="6.0" fill="none" stroke="#000" stroke-width="1.4"/>
<rect x="279.60" y="724.85" width="6.0" height="6.0" fill="none" stroke="#000" stroke-width="1.4"/>
<rect x="286.78" y="727.61" width="6.0" height="6.0" fill="none" stroke="#000" stroke-width="1.4"/>
<rect x="293.63" y="727.61" width="6.0" height="6.0" fill="none" stroke="#000" stroke-width="1.4"/>
<rect x="301.14" y="730.92" width="6.0" height="6.0" fill="none" stroke="#000" stroke-width="1.4"/>
<rect x="307.77" y="732.03" width="6.0" height="6.0" fill="none" stroke="#000" stroke-width="1.4"/>
<rect x="314.96" y="724.85" width="6.0" height="6.0" fill="none" stroke="#000" stroke-width="1.4"/>
<rect x="322.14" y="725.40" width="6.0" height="6.0" fill="none" stroke="#000" stroke-width="1.4"/>
<rect x="329.32" y="730.92" width="6.0" height="6.0" fill="none" stroke="#000" stroke-width="1.4"/>
<rect x="279.60" y="732.03" width="6.0" height="6.0" fill="none" stroke="#000" stroke-width="1.4"/>
<rect x="286.78" y="732.03" width="6.0" height="6.0" fill="none" stroke="#000" stroke-width="1.4"/>
<rect x="293.63" y="732.03" width="6.0" height="6.0" fill="none" stroke="#000" stroke-width="1.4"/>
<rect x="301.14" y="732.03" width="6.0" height="6.0" fill="none" stroke="#000" stroke-width="1.4"/>
<rect x="307.77" y="732.03" width="6.0" height="6.0" fill="none" stroke="#000" stroke-width="1.4"/>
<rect x="322.14" y="732.03" width="6.0" height="6.0" fill="none" stroke="#000" stroke-width="1.4"/>
<rect x="329.32" y="732.03" width="6.0" height="6.0" fill="none" stroke="#000" stroke-width="1.4"/>
<rect x="279.60" y="740.31" width="6.0" height="6.0" fill="none" stroke="#000" stroke-width="1.4"/>
<rect x="286.78" y="739.76" width="6.0" height="6.0" fill="none" stroke="#000" stroke-width="1.4"/>
<rect x="293.63" y="739.76" width="6.0" height="6.0" fill="none" stroke="#000" stroke-width="1.4"/>
<rect x="329.32" y="739.21" width="6.0" height="6.0" fill="none" stroke="#000" stroke-width="1.4"/>
<rect x="307.77" y="743.08" width="6.0" height="6.0" fill="none" stroke="#000" stroke-width="1.4"/>
<rect x="301.14" y="743.63" width="6.0" height="6.0" fill="none" stroke="#000" stroke-width="1.4"/>
<rect x="293.63" y="745.29" width="6.0" height="6.0" fill="none" stroke="#000" stroke-width="1.4"/>
<rect x="272.41" y="750.81" width="6.0" height="6.0" fill="none" stroke="#000" stroke-width="1.4"/>
<rect x="279.60" y="751.36" width="6.0" height="6.0" fill="none" stroke="#000" stroke-width="1.4"/>
<rect x="265.23" y="755.78" width="6.0" height="6.0" fill="none" stroke="#000" stroke-width="1.4"/>
<rect x="272.41" y="756.34" width="6.0" height="6.0" fill="none" stroke="#000" stroke-width="1.4"/>
<rect x="279.60" y="756.34" width="6.0" height="6.0" fill="none" stroke="#000" stroke-width="1.4"/>
<rect x="286.78" y="756.89" width="6.0" height="6.0" fill="none" stroke="#000" stroke-width="1.4"/>
<rect x="279.60" y="761.86" width="6.0" height="6.0" fill="none" stroke="#000" stroke-width="1.4"/>
<rect x="293.63" y="760.20" width="6.0" height="6.0" fill="none" stroke="#000" stroke-width="1.4"/>
<rect x="301.14" y="753.02" width="6.0" height="6.0" fill="none" stroke="#000" stroke-width="1.4"/>
<rect x="307.77" y="753.02" width="6.0" height="6.0" fill="none" stroke="#000" stroke-width="1.4"/>
<rect x="322.14" y="751.92" width="6.0" height="6.0" fill="none" stroke="#000" stroke-width="1.4"/>
<rect x="301.14" y="759.65" width="6.0" height="6.0" fill="none" stroke="#000" stroke-width="1.4"/>
<rect x="307.77" y="760.76" width="6.0" height="6.0" fill="none" stroke="#000" stroke-width="1.4"/>
<rect x="314.96" y="759.10" width="6.0" height="6.0" fill="none" stroke="#000" stroke-width="1.4"/>
<rect x="322.14" y="758.55" width="6.0" height="6.0" fill="none" stroke="#000" stroke-width="1.4"/>
<rect x="304.46" y="770.70" width="6.0" height="6.0" fill="none" stroke="#000" stroke-width="1.4"/>
<rect x="293.63" y="767.39" width="6.0" height="6.0" fill="none" stroke="#000" stroke-width="1.4"/>
<rect x="136.70" y="667.40" width="77.90" height="48.60" fill="none" stroke="#000" stroke-width="4.2"/>
<line x1="136.70" y1="694.80" x2="214.60" y2="694.80" stroke="#000" stroke-width="4.4" stroke-linecap="butt"/>
<line x1="175.40" y1="640.90" x2="175.40" y2="667.40" stroke="#000" stroke-width="4.4" stroke-linecap="butt"/>
<line x1="175.40" y1="716.00" x2="175.40" y2="751.50" stroke="#000" stroke-width="4.4" stroke-linecap="butt"/>
<line x1="154.90" y1="640.90" x2="195.90" y2="640.90" stroke="#000" stroke-width="4.4" stroke-linecap="butt"/>
<line x1="154.90" y1="751.50" x2="195.90" y2="751.50" stroke="#000" stroke-width="4.4" stroke-linecap="butt"/>
<rect x="260.90" y="702.20" width="79.30" height="36.80" fill="none" stroke="#000" stroke-width="4.2"/>
<line x1="260.90" y1="724.70" x2="340.20" y2="724.70" stroke="#000" stroke-width="4.4" stroke-linecap="butt"/>
<line x1="300.50" y1="644.50" x2="300.50" y2="702.20" stroke="#000" stroke-width="4.4" stroke-linecap="butt"/>
<line x1="300.50" y1="739.00" x2="300.50" y2="776.40" stroke="#000" stroke-width="4.4" stroke-linecap="butt"/>
<line x1="280.00" y1="644.50" x2="321.00" y2="644.50" stroke="#000" stroke-width="4.4" stroke-linecap="butt"/>
<line x1="280.00" y1="776.40" x2="321.00" y2="776.40" stroke="#000" stroke-width="4.4" stroke-linecap="butt"/>
<line x1="91.40" y1="566.90" x2="91.40" y2="862.10" stroke="#000" stroke-width="3.2" stroke-linecap="butt"/>
<line x1="89.80" y1="860.50" x2="385.70" y2="860.50" stroke="#000" stroke-width="3.2" stroke-linecap="butt"/>
<line x1="79.40" y1="860.50" x2="91.40" y2="860.50" stroke="#000" stroke-width="3.2" stroke-linecap="butt"/>
<text x="74.90" y="869.86" font-size="24" font-weight="bold" text-anchor="end" >0</text>
<line x1="79.40" y1="787.50" x2="91.40" y2="787.50" stroke="#000" stroke-width="3.2" stroke-linecap="butt"/>
<text x="74.90" y="796.86" font-size="24" font-weight="bold" text-anchor="end" >100</text>
<line x1="79.40" y1="714.50" x2="91.40" y2="714.50" stroke="#000" stroke-width="3.2" stroke-linecap="butt"/>
<text x="74.90" y="723.86" font-size="24" font-weight="bold" text-anchor="end" >200</text>
<line x1="79.40" y1="641.50" x2="91.40" y2="641.50" stroke="#000" stroke-width="3.2" stroke-linecap="butt"/>
<text x="74.90" y="650.86" font-size="24" font-weight="bold" text-anchor="end" >300</text>
<line x1="79.40" y1="568.50" x2="91.40" y2="568.50" stroke="#000" stroke-width="3.2" stroke-linecap="butt"/>
<text x="74.90" y="577.86" font-size="24" font-weight="bold" text-anchor="end" >400</text>
<line x1="175.40" y1="860.50" x2="175.40" y2="872.50" stroke="#000" stroke-width="3.2" stroke-linecap="butt"/>
<line x1="300.50" y1="860.50" x2="300.50" y2="872.50" stroke="#000" stroke-width="3.2" stroke-linecap="butt"/>
<text x="22.60" y="711.20" font-size="24.4" font-weight="bold" text-anchor="middle" transform="rotate(-90 22.60 711.20)">Total cholesterol (mg/dL)</text>
<text x="160.00" y="896.00" font-size="19" font-weight="bold" text-anchor="middle" class="xl" letter-spacing="0.1">RA with CVE</text>
<text x="160.00" y="917.10" font-size="19" font-weight="bold" text-anchor="middle" class="xl" letter-spacing="0.6">(n=19)</text>
<text x="302.40" y="896.00" font-size="19" font-weight="bold" text-anchor="middle" class="xl" letter-spacing="0.1">RA without CVE</text>
<text x="302.40" y="917.10" font-size="19" font-weight="bold" text-anchor="middle" class="xl" letter-spacing="0.6">(n=95)</text>
<line x1="175.60" y1="606.60" x2="300.60" y2="606.60" stroke="#000" stroke-width="3.0" stroke-linecap="butt"/>
<path d="M230.05,579.80L230.05,592.80M224.08,582.85L236.02,589.75M224.08,589.75L236.02,582.85" stroke="#000" stroke-width="3.4" fill="none"/>
<path d="M245.55,579.80L245.55,592.80M239.58,582.85L251.52,589.75M239.58,589.75L251.52,582.85" stroke="#000" stroke-width="3.4" fill="none"/>
<text x="501.50" y="518.20" font-size="38" textLength="276.0" lengthAdjust="spacing">(D) Triglyceride</text>
<rect x="586.30" y="749.50" width="77.50" height="48.80" fill="#f74345"/>
<rect x="710.90" y="798.00" width="78.40" height="22.80" fill="#5b5bf2"/>
<circle cx="613.40" cy="745.70" r="3.3" fill="none" stroke="#000" stroke-width="1.5"/>
<circle cx="636.70" cy="745.70" r="3.3" fill="none" stroke="#000" stroke-width="1.5"/>
<circle cx="625.00" cy="765.80" r="3.3" fill="none" stroke="#000" stroke-width="1.5"/>
<circle cx="636.70" cy="765.80" r="3.3" fill="none" stroke="#000" stroke-width="1.5"/>
<circle cx="630.90" cy="782.10" r="3.3" fill="none" stroke="#000" stroke-width="1.5"/>
<circle cx="619.20" cy="787.00" r="3.3" fill="none" stroke="#000" stroke-width="1.5"/>
<circle cx="625.00" cy="792.60" r="3.3" fill="none" stroke="#000" stroke-width="1.5"/>
<circle cx="607.60" cy="805.20" r="3.3" fill="none" stroke="#000" stroke-width="1.5"/>
<circle cx="619.20" cy="806.40" r="3.3" fill="none" stroke="#000" stroke-width="1.5"/>
<circle cx="630.90" cy="802.80" r="3.3" fill="none" stroke="#000" stroke-width="1.5"/>
<circle cx="642.30" cy="802.30" r="3.3" fill="none" stroke="#000" stroke-width="1.5"/>
<circle cx="625.00" cy="589.40" r="3.5" fill="#000"/>
<circle cx="625.00" cy="603.00" r="3.5" fill="#000"/>
<circle cx="625.00" cy="695.40" r="3.5" fill="#000"/>
<circle cx="625.00" cy="723.30" r="3.5" fill="#000"/>
<circle cx="613.40" cy="768.80" r="3.5" fill="#000"/>
<circle cx="625.00" cy="816.20" r="3.5" fill="#000"/>
<circle cx="625.00" cy="822.70" r="3.5" fill="#000"/>
<circle cx="625.00" cy="746.00" r="3.5" fill="#000"/>
<rect x="734.57" y="773.57" width="6.0" height="6.0" fill="none" stroke="#000" stroke-width="1.4"/>
<rect x="739.54" y="773.57" width="6.0" height="6.0" fill="none" stroke="#000" stroke-width="1.4"/>
<rect x="743.96" y="773.57" width="6.0" height="6.0" fill="none" stroke="#000" stroke-width="1.4"/>
<rect x="753.35" y="773.57" width="6.0" height="6.0" fill="none" stroke="#000" stroke-width="1.4"/>
<rect x="758.33" y="773.57" width="6.0" height="6.0" fill="none" stroke="#000" stroke-width="1.4"/>
<rect x="763.30" y="773.57" width="6.0" height="6.0" fill="none" stroke="#000" stroke-width="1.4"/>
<rect x="734.57" y="779.65" width="6.0" height="6.0" fill="none" stroke="#000" stroke-width="1.4"/>
<rect x="739.54" y="779.65" width="6.0" height="6.0" fill="none" stroke="#000" stroke-width="1.4"/>
<rect x="753.35" y="779.65" width="6.0" height="6.0" fill="none" stroke="#000" stroke-width="1.4"/>
<rect x="758.33" y="779.65" width="6.0" height="6.0" fill="none" stroke="#000" stroke-width="1.4"/>
<rect x="743.96" y="783.52" width="6.0" height="6.0" fill="none" stroke="#000" stroke-width="1.4"/>
<rect x="753.35" y="783.52" width="6.0" height="6.0" fill="none" stroke="#000" stroke-width="1.4"/>
<rect x="758.33" y="783.52" width="6.0" height="6.0" fill="none" stroke="#000" stroke-width="1.4"/>
<rect x="734.57" y="789.04" width="6.0" height="6.0" fill="none" stroke="#000" stroke-width="1.4"/>
<rect x="739.54" y="789.04" width="6.0" height="6.0" fill="none" stroke="#000" stroke-width="1.4"/>
<rect x="743.96" y="789.04" width="6.0" height="6.0" fill="none" stroke="#000" stroke-width="1.4"/>
<rect x="753.35" y="789.04" width="6.0" height="6.0" fill="none" stroke="#000" stroke-width="1.4"/>
<rect x="758.33" y="789.04" width="6.0" height="6.0" fill="none" stroke="#000" stroke-width="1.4"/>
<rect x="743.41" y="758.66" width="6.0" height="6.0" fill="none" stroke="#000" stroke-width="1.4"/>
<rect x="751.14" y="758.66" width="6.0" height="6.0" fill="none" stroke="#000" stroke-width="1.4"/>
<rect x="745.07" y="765.84" width="6.0" height="6.0" fill="none" stroke="#000" stroke-width="1.4"/>
<rect x="712.47" y="801.20" width="6.0" height="6.0" fill="none" stroke="#000" stroke-width="1.4"/>
<rect x="717.44" y="801.20" width="6.0" height="6.0" fill="none" stroke="#000" stroke-width="1.4"/>
<rect x="722.41" y="801.20" width="6.0" height="6.0" fill="none" stroke="#000" stroke-width="1.4"/>
<rect x="727.39" y="801.20" width="6.0" height="6.0" fill="none" stroke="#000" stroke-width="1.4"/>
<rect x="732.36" y="801.20" width="6.0" height="6.0" fill="none" stroke="#000" stroke-width="1.4"/>
<rect x="737.33" y="801.20" width="6.0" height="6.0" fill="none" stroke="#000" stroke-width="1.4"/>
<rect x="742.30" y="801.20" width="6.0" height="6.0" fill="none" stroke="#000" stroke-width="1.4"/>
<rect x="747.28" y="801.20" width="6.0" height="6.0" fill="none" stroke="#000" stroke-width="1.4"/>
<rect x="752.25" y="801.20" width="6.0" height="6.0" fill="none" stroke="#000" stroke-width="1.4"/>
<rect x="757.22" y="801.20" width="6.0" height="6.0" fill="none" stroke="#000" stroke-width="1.4"/>
<rect x="762.19" y="801.20" width="6.0" height="6.0" fill="none" stroke="#000" stroke-width="1.4"/>
<rect x="767.17" y="801.20" width="6.0" height="6.0" fill="none" stroke="#000" stroke-width="1.4"/>
<rect x="772.14" y="801.20" width="6.0" height="6.0" fill="none" stroke="#000" stroke-width="1.4"/>
<rect x="777.11" y="801.20" width="6.0" height="6.0" fill="none" stroke="#000" stroke-width="1.4"/>
<rect x="714.68" y="805.62" width="6.0" height="6.0" fill="none" stroke="#000" stroke-width="1.4"/>
<rect x="719.65" y="805.62" width="6.0" height="6.0" fill="none" stroke="#000" stroke-width="1.4"/>
<rect x="724.62" y="805.62" width="6.0" height="6.0" fill="none" stroke="#000" stroke-width="1.4"/>
<rect x="729.60" y="805.62" width="6.0" height="6.0" fill="none" stroke="#000" stroke-width="1.4"/>
<rect x="734.57" y="805.62" width="6.0" height="6.0" fill="none" stroke="#000" stroke-width="1.4"/>
<rect x="739.54" y="805.62" width="6.0" height="6.0" fill="none" stroke="#000" stroke-width="1.4"/>
<rect x="744.51" y="805.62" width="6.0" height="6.0" fill="none" stroke="#000" stroke-width="1.4"/>
<rect x="749.49" y="805.62" width="6.0" height="6.0" fill="none" stroke="#000" stroke-width="1.4"/>
<rect x="754.46" y="805.62" width="6.0" height="6.0" fill="none" stroke="#000" stroke-width="1.4"/>
<rect x="759.43" y="805.62" width="6.0" height="6.0" fill="none" stroke="#000" stroke-width="1.4"/>
<rect x="764.40" y="805.62" width="6.0" height="6.0" fill="none" stroke="#000" stroke-width="1.4"/>
<rect x="769.38" y="805.62" width="6.0" height="6.0" fill="none" stroke="#000" stroke-width="1.4"/>
<rect x="774.35" y="805.62" width="6.0" height="6.0" fill="none" stroke="#000" stroke-width="1.4"/>
<rect x="779.32" y="805.62" width="6.0" height="6.0" fill="none" stroke="#000" stroke-width="1.4"/>
<rect x="711.36" y="814.46" width="6.0" height="6.0" fill="none" stroke="#000" stroke-width="1.4"/>
<rect x="716.34" y="814.46" width="6.0" height="6.0" fill="none" stroke="#000" stroke-width="1.4"/>
<rect x="721.31" y="814.46" width="6.0" height="6.0" fill="none" stroke="#000" stroke-width="1.4"/>
<rect x="726.28" y="814.46" width="6.0" height="6.0" fill="none" stroke="#000" stroke-width="1.4"/>
<rect x="731.25" y="814.46" width="6.0" height="6.0" fill="none" stroke="#000" stroke-width="1.4"/>
<rect x="736.23" y="814.46" width="6.0" height="6.0" fill="none" stroke="#000" stroke-width="1.4"/>
<rect x="741.20" y="814.46" width="6.0" height="6.0" fill="none" stroke="#000" stroke-width="1.4"/>
<rect x="746.17" y="814.46" width="6.0" height="6.0" fill="none" stroke="#000" stroke-width="1.4"/>
<rect x="751.14" y="814.46" width="6.0" height="6.0" fill="none" stroke="#000" stroke-width="1.4"/>
<rect x="756.12" y="814.46" width="6.0" height="6.0" fill="none" stroke="#000" stroke-width="1.4"/>
<rect x="761.09" y="814.46" width="6.0" height="6.0" fill="none" stroke="#000" stroke-width="1.4"/>
<rect x="766.06" y="814.46" width="6.0" height="6.0" fill="none" stroke="#000" stroke-width="1.4"/>
<rect x="771.03" y="814.46" width="6.0" height="6.0" fill="none" stroke="#000" stroke-width="1.4"/>
<rect x="776.01" y="814.46" width="6.0" height="6.0" fill="none" stroke="#000" stroke-width="1.4"/>
<rect x="780.98" y="814.46" width="6.0" height="6.0" fill="none" stroke="#000" stroke-width="1.4"/>
<rect x="725.73" y="823.30" width="6.0" height="6.0" fill="none" stroke="#000" stroke-width="1.4"/>
<rect x="730.15" y="823.30" width="6.0" height="6.0" fill="none" stroke="#000" stroke-width="1.4"/>
<rect x="735.12" y="823.30" width="6.0" height="6.0" fill="none" stroke="#000" stroke-width="1.4"/>
<rect x="740.09" y="823.30" width="6.0" height="6.0" fill="none" stroke="#000" stroke-width="1.4"/>
<rect x="748.93" y="823.30" width="6.0" height="6.0" fill="none" stroke="#000" stroke-width="1.4"/>
<rect x="753.35" y="823.30" width="6.0" height="6.0" fill="none" stroke="#000" stroke-width="1.4"/>
<rect x="758.33" y="823.30" width="6.0" height="6.0" fill="none" stroke="#000" stroke-width="1.4"/>
<rect x="763.30" y="823.30" width="6.0" height="6.0" fill="none" stroke="#000" stroke-width="1.4"/>
<rect x="767.72" y="823.30" width="6.0" height="6.0" fill="none" stroke="#000" stroke-width="1.4"/>
<rect x="725.73" y="828.27" width="6.0" height="6.0" fill="none" stroke="#000" stroke-width="1.4"/>
<rect x="735.12" y="828.27" width="6.0" height="6.0" fill="none" stroke="#000" stroke-width="1.4"/>
<rect x="740.09" y="828.27" width="6.0" height="6.0" fill="none" stroke="#000" stroke-width="1.4"/>
<rect x="748.93" y="828.27" width="6.0" height="6.0" fill="none" stroke="#000" stroke-width="1.4"/>
<rect x="758.33" y="828.27" width="6.0" height="6.0" fill="none" stroke="#000" stroke-width="1.4"/>
<rect x="763.30" y="828.27" width="6.0" height="6.0" fill="none" stroke="#000" stroke-width="1.4"/>
<rect x="767.72" y="828.27" width="6.0" height="6.0" fill="none" stroke="#000" stroke-width="1.4"/>
<rect x="730.15" y="834.90" width="6.0" height="6.0" fill="none" stroke="#000" stroke-width="1.4"/>
<rect x="735.12" y="834.90" width="6.0" height="6.0" fill="none" stroke="#000" stroke-width="1.4"/>
<rect x="740.09" y="834.90" width="6.0" height="6.0" fill="none" stroke="#000" stroke-width="1.4"/>
<rect x="748.93" y="834.90" width="6.0" height="6.0" fill="none" stroke="#000" stroke-width="1.4"/>
<rect x="753.35" y="834.90" width="6.0" height="6.0" fill="none" stroke="#000" stroke-width="1.4"/>
<rect x="758.33" y="834.90" width="6.0" height="6.0" fill="none" stroke="#000" stroke-width="1.4"/>
<rect x="735.12" y="838.77" width="6.0" height="6.0" fill="none" stroke="#000" stroke-width="1.4"/>
<rect x="740.09" y="838.77" width="6.0" height="6.0" fill="none" stroke="#000" stroke-width="1.4"/>
<rect x="748.93" y="838.77" width="6.0" height="6.0" fill="none" stroke="#000" stroke-width="1.4"/>
<rect x="758.33" y="838.77" width="6.0" height="6.0" fill="none" stroke="#000" stroke-width="1.4"/>
<rect x="743.60" y="740.90" width="6.0" height="6.0" fill="none" stroke="#000" stroke-width="1.4"/>
<rect x="750.20" y="745.90" width="6.0" height="6.0" fill="none" stroke="#000" stroke-width="1.4"/>
<rect x="743.60" y="757.80" width="6.0" height="6.0" fill="none" stroke="#000" stroke-width="1.4"/>
<rect x="750.20" y="757.80" width="6.0" height="6.0" fill="none" stroke="#000" stroke-width="1.4"/>
<rect x="586.30" y="749.50" width="77.50" height="48.80" fill="none" stroke="#000" stroke-width="4.2"/>
<line x1="586.30" y1="768.80" x2="663.80" y2="768.80" stroke="#000" stroke-width="4.4" stroke-linecap="butt"/>
<line x1="625.00" y1="589.40" x2="625.00" y2="749.50" stroke="#000" stroke-width="4.4" stroke-linecap="butt"/>
<line x1="625.00" y1="798.30" x2="625.00" y2="822.70" stroke="#000" stroke-width="4.4" stroke-linecap="butt"/>
<line x1="604.50" y1="589.40" x2="645.50" y2="589.40" stroke="#000" stroke-width="4.4" stroke-linecap="butt"/>
<line x1="604.50" y1="822.70" x2="645.50" y2="822.70" stroke="#000" stroke-width="4.4" stroke-linecap="butt"/>
<rect x="710.90" y="798.00" width="78.40" height="22.80" fill="none" stroke="#000" stroke-width="4.2"/>
<line x1="710.90" y1="812.50" x2="789.30" y2="812.50" stroke="#000" stroke-width="4.4" stroke-linecap="butt"/>
<line x1="750.00" y1="621.20" x2="750.00" y2="798.00" stroke="#000" stroke-width="4.4" stroke-linecap="butt"/>
<line x1="750.00" y1="820.80" x2="750.00" y2="844.00" stroke="#000" stroke-width="4.4" stroke-linecap="butt"/>
<line x1="729.50" y1="621.20" x2="770.50" y2="621.20" stroke="#000" stroke-width="4.4" stroke-linecap="butt"/>
<line x1="729.50" y1="844.00" x2="770.50" y2="844.00" stroke="#000" stroke-width="4.4" stroke-linecap="butt"/>
<line x1="541.70" y1="567.10" x2="541.70" y2="862.30" stroke="#000" stroke-width="3.2" stroke-linecap="butt"/>
<line x1="540.10" y1="860.70" x2="834.70" y2="860.70" stroke="#000" stroke-width="3.2" stroke-linecap="butt"/>
<line x1="529.70" y1="860.70" x2="541.70" y2="860.70" stroke="#000" stroke-width="3.2" stroke-linecap="butt"/>
<text x="525.20" y="870.06" font-size="24" font-weight="bold" text-anchor="end" >0</text>
<line x1="529.70" y1="802.30" x2="541.70" y2="802.30" stroke="#000" stroke-width="3.2" stroke-linecap="butt"/>
<text x="525.20" y="811.66" font-size="24" font-weight="bold" text-anchor="end" >100</text>
<line x1="529.70" y1="743.90" x2="541.70" y2="743.90" stroke="#000" stroke-width="3.2" stroke-linecap="butt"/>
<text x="525.20" y="753.26" font-size="24" font-weight="bold" text-anchor="end" >200</text>
<line x1="529.70" y1="685.50" x2="541.70" y2="685.50" stroke="#000" stroke-width="3.2" stroke-linecap="butt"/>
<text x="525.20" y="694.86" font-size="24" font-weight="bold" text-anchor="end" >300</text>
<line x1="529.70" y1="627.10" x2="541.70" y2="627.10" stroke="#000" stroke-width="3.2" stroke-linecap="butt"/>
<text x="525.20" y="636.46" font-size="24" font-weight="bold" text-anchor="end" >400</text>
<line x1="529.70" y1="568.70" x2="541.70" y2="568.70" stroke="#000" stroke-width="3.2" stroke-linecap="butt"/>
<text x="525.20" y="578.06" font-size="24" font-weight="bold" text-anchor="end" >500</text>
<line x1="625.00" y1="860.70" x2="625.00" y2="872.70" stroke="#000" stroke-width="3.2" stroke-linecap="butt"/>
<line x1="750.00" y1="860.70" x2="750.00" y2="872.70" stroke="#000" stroke-width="3.2" stroke-linecap="butt"/>
<text x="471.00" y="713.80" font-size="24" font-weight="bold" text-anchor="middle" transform="rotate(-90 471.00 713.80)">Triglyceride (mg/dL)</text>
<text x="607.70" y="896.00" font-size="19" font-weight="bold" text-anchor="middle" class="xl" letter-spacing="0.1">RA with CVE</text>
<text x="607.70" y="917.10" font-size="19" font-weight="bold" text-anchor="middle" class="xl" letter-spacing="0.6">(n=19)</text>
<text x="751.00" y="896.00" font-size="19" font-weight="bold" text-anchor="middle" class="xl" letter-spacing="0.1">RA without CVE</text>
<text x="751.00" y="917.10" font-size="19" font-weight="bold" text-anchor="middle" class="xl" letter-spacing="0.6">(n=95)</text>
<line x1="623.90" y1="580.30" x2="749.60" y2="580.30" stroke="#000" stroke-width="5.0" stroke-linecap="butt"/>
<path d="M669.80,553.55L669.80,566.85M663.70,556.68L675.90,563.72M663.70,563.72L675.90,556.68" stroke="#000" stroke-width="3.4" fill="none"/>
<path d="M686.80,553.55L686.80,566.85M680.70,556.68L692.90,563.72M680.70,563.72L692.90,556.68" stroke="#000" stroke-width="3.4" fill="none"/>
<path d="M703.80,553.55L703.80,566.85M697.70,556.68L709.90,563.72M697.70,563.72L709.90,556.68" stroke="#000" stroke-width="3.4" fill="none"/>
<text x="49.60" y="987.60" font-size="38" textLength="383.0" lengthAdjust="spacing">(E) Atherogenic index</text>
<rect x="123.90" y="1150.90" width="77.50" height="57.50" fill="#f74345"/>
<rect x="248.50" y="1196.70" width="78.70" height="30.00" fill="#5b5bf2"/>
<circle cx="156.70" cy="1129.80" r="3.3" fill="none" stroke="#000" stroke-width="1.5"/>
<circle cx="168.70" cy="1134.70" r="3.3" fill="none" stroke="#000" stroke-width="1.5"/>
<circle cx="156.70" cy="1151.90" r="3.3" fill="none" stroke="#000" stroke-width="1.5"/>
<circle cx="168.70" cy="1147.70" r="3.3" fill="none" stroke="#000" stroke-width="1.5"/>
<circle cx="145.00" cy="1167.00" r="3.3" fill="none" stroke="#000" stroke-width="1.5"/>
<circle cx="168.70" cy="1168.00" r="3.3" fill="none" stroke="#000" stroke-width="1.5"/>
<circle cx="180.30" cy="1165.90" r="3.3" fill="none" stroke="#000" stroke-width="1.5"/>
<circle cx="156.70" cy="1204.50" r="3.3" fill="none" stroke="#000" stroke-width="1.5"/>
<circle cx="168.70" cy="1203.00" r="3.3" fill="none" stroke="#000" stroke-width="1.5"/>
<circle cx="180.30" cy="1200.10" r="3.3" fill="none" stroke="#000" stroke-width="1.5"/>
<circle cx="145.00" cy="1212.90" r="3.3" fill="none" stroke="#000" stroke-width="1.5"/>
<circle cx="156.70" cy="1216.20" r="3.3" fill="none" stroke="#000" stroke-width="1.5"/>
<circle cx="168.70" cy="1212.90" r="3.3" fill="none" stroke="#000" stroke-width="1.5"/>
<circle cx="180.30" cy="1210.50" r="3.3" fill="none" stroke="#000" stroke-width="1.5"/>
<circle cx="162.70" cy="1059.30" r="3.5" fill="#000"/>
<circle cx="162.70" cy="1109.90" r="3.5" fill="#000"/>
<circle cx="162.70" cy="1178.70" r="3.5" fill="#000"/>
<circle cx="162.70" cy="1223.80" r="3.5" fill="#000"/>
<circle cx="162.70" cy="1231.70" r="3.5" fill="#000"/>
<rect x="281.20" y="1112.47" width="6.0" height="6.0" fill="none" stroke="#000" stroke-width="1.4"/>
<rect x="288.38" y="1109.15" width="6.0" height="6.0" fill="none" stroke="#000" stroke-width="1.4"/>
<rect x="293.35" y="1143.41" width="6.0" height="6.0" fill="none" stroke="#000" stroke-width="1.4"/>
<rect x="281.20" y="1145.62" width="6.0" height="6.0" fill="none" stroke="#000" stroke-width="1.4"/>
<rect x="275.67" y="1149.49" width="6.0" height="6.0" fill="none" stroke="#000" stroke-width="1.4"/>
<rect x="288.38" y="1150.59" width="6.0" height="6.0" fill="none" stroke="#000" stroke-width="1.4"/>
<rect x="293.35" y="1151.14" width="6.0" height="6.0" fill="none" stroke="#000" stroke-width="1.4"/>
<rect x="281.20" y="1154.46" width="6.0" height="6.0" fill="none" stroke="#000" stroke-width="1.4"/>
<rect x="293.35" y="1161.64" width="6.0" height="6.0" fill="none" stroke="#000" stroke-width="1.4"/>
<rect x="269.60" y="1166.06" width="6.0" height="6.0" fill="none" stroke="#000" stroke-width="1.4"/>
<rect x="275.67" y="1164.96" width="6.0" height="6.0" fill="none" stroke="#000" stroke-width="1.4"/>
<rect x="281.20" y="1163.85" width="6.0" height="6.0" fill="none" stroke="#000" stroke-width="1.4"/>
<rect x="288.38" y="1164.96" width="6.0" height="6.0" fill="none" stroke="#000" stroke-width="1.4"/>
<rect x="275.67" y="1171.03" width="6.0" height="6.0" fill="none" stroke="#000" stroke-width="1.4"/>
<rect x="281.20" y="1169.93" width="6.0" height="6.0" fill="none" stroke="#000" stroke-width="1.4"/>
<rect x="288.38" y="1170.48" width="6.0" height="6.0" fill="none" stroke="#000" stroke-width="1.4"/>
<rect x="293.35" y="1168.82" width="6.0" height="6.0" fill="none" stroke="#000" stroke-width="1.4"/>
<rect x="288.38" y="1176.01" width="6.0" height="6.0" fill="none" stroke="#000" stroke-width="1.4"/>
<rect x="281.20" y="1179.87" width="6.0" height="6.0" fill="none" stroke="#000" stroke-width="1.4"/>
<rect x="275.67" y="1187.06" width="6.0" height="6.0" fill="none" stroke="#000" stroke-width="1.4"/>
<rect x="281.20" y="1187.06" width="6.0" height="6.0" fill="none" stroke="#000" stroke-width="1.4"/>
<rect x="269.60" y="1188.71" width="6.0" height="6.0" fill="none" stroke="#000" stroke-width="1.4"/>
<rect x="288.38" y="1188.16" width="6.0" height="6.0" fill="none" stroke="#000" stroke-width="1.4"/>
<rect x="299.43" y="1188.71" width="6.0" height="6.0" fill="none" stroke="#000" stroke-width="1.4"/>
<rect x="251.36" y="1197.55" width="6.0" height="6.0" fill="none" stroke="#000" stroke-width="1.4"/>
<rect x="257.44" y="1197.55" width="6.0" height="6.0" fill="none" stroke="#000" stroke-width="1.4"/>
<rect x="263.52" y="1197.55" width="6.0" height="6.0" fill="none" stroke="#000" stroke-width="1.4"/>
<rect x="269.60" y="1197.55" width="6.0" height="6.0" fill="none" stroke="#000" stroke-width="1.4"/>
<rect x="275.67" y="1197.55" width="6.0" height="6.0" fill="none" stroke="#000" stroke-width="1.4"/>
<rect x="281.20" y="1197.55" width="6.0" height="6.0" fill="none" stroke="#000" stroke-width="1.4"/>
<rect x="287.28" y="1197.55" width="6.0" height="6.0" fill="none" stroke="#000" stroke-width="1.4"/>
<rect x="293.35" y="1197.55" width="6.0" height="6.0" fill="none" stroke="#000" stroke-width="1.4"/>
<rect x="299.43" y="1197.55" width="6.0" height="6.0" fill="none" stroke="#000" stroke-width="1.4"/>
<rect x="305.51" y="1197.55" width="6.0" height="6.0" fill="none" stroke="#000" stroke-width="1.4"/>
<rect x="311.59" y="1197.55" width="6.0" height="6.0" fill="none" stroke="#000" stroke-width="1.4"/>
<rect x="317.66" y="1197.55" width="6.0" height="6.0" fill="none" stroke="#000" stroke-width="1.4"/>
<rect x="251.36" y="1202.52" width="6.0" height="6.0" fill="none" stroke="#000" stroke-width="1.4"/>
<rect x="257.44" y="1202.52" width="6.0" height="6.0" fill="none" stroke="#000" stroke-width="1.4"/>
<rect x="263.52" y="1202.52" width="6.0" height="6.0" fill="none" stroke="#000" stroke-width="1.4"/>
<rect x="269.60" y="1202.52" width="6.0" height="6.0" fill="none" stroke="#000" stroke-width="1.4"/>
<rect x="275.67" y="1202.52" width="6.0" height="6.0" fill="none" stroke="#000" stroke-width="1.4"/>
<rect x="281.20" y="1202.52" width="6.0" height="6.0" fill="none" stroke="#000" stroke-width="1.4"/>
<rect x="287.28" y="1202.52" width="6.0" height="6.0" fill="none" stroke="#000" stroke-width="1.4"/>
<rect x="293.35" y="1202.52" width="6.0" height="6.0" fill="none" stroke="#000" stroke-width="1.4"/>
<rect x="299.43" y="1202.52" width="6.0" height="6.0" fill="none" stroke="#000" stroke-width="1.4"/>
<rect x="305.51" y="1202.52" width="6.0" height="6.0" fill="none" stroke="#000" stroke-width="1.4"/>
<rect x="311.59" y="1202.52" width="6.0" height="6.0" fill="none" stroke="#000" stroke-width="1.4"/>
<rect x="317.66" y="1202.52" width="6.0" height="6.0" fill="none" stroke="#000" stroke-width="1.4"/>
<rect x="257.44" y="1213.02" width="6.0" height="6.0" fill="none" stroke="#000" stroke-width="1.4"/>
<rect x="263.52" y="1213.02" width="6.0" height="6.0" fill="none" stroke="#000" stroke-width="1.4"/>
<rect x="269.60" y="1213.02" width="6.0" height="6.0" fill="none" stroke="#000" stroke-width="1.4"/>
<rect x="275.67" y="1213.02" width="6.0" height="6.0" fill="none" stroke="#000" stroke-width="1.4"/>
<rect x="281.20" y="1213.02" width="6.0" height="6.0" fill="none" stroke="#000" stroke-width="1.4"/>
<rect x="287.28" y="1213.02" width="6.0" height="6.0" fill="none" stroke="#000" stroke-width="1.4"/>
<rect x="293.35" y="1213.02" width="6.0" height="6.0" fill="none" stroke="#000" stroke-width="1.4"/>
<rect x="299.43" y="1213.02" width="6.0" height="6.0" fill="none" stroke="#000" stroke-width="1.4"/>
<rect x="305.51" y="1213.02" width="6.0" height="6.0" fill="none" stroke="#000" stroke-width="1.4"/>
<rect x="311.59" y="1213.02" width="6.0" height="6.0" fill="none" stroke="#000" stroke-width="1.4"/>
<rect x="317.66" y="1213.02" width="6.0" height="6.0" fill="none" stroke="#000" stroke-width="1.4"/>
<rect x="251.36" y="1218.55" width="6.0" height="6.0" fill="none" stroke="#000" stroke-width="1.4"/>
<rect x="263.52" y="1218.55" width="6.0" height="6.0" fill="none" stroke="#000" stroke-width="1.4"/>
<rect x="269.60" y="1218.55" width="6.0" height="6.0" fill="none" stroke="#000" stroke-width="1.4"/>
<rect x="275.67" y="1218.55" width="6.0" height="6.0" fill="none" stroke="#000" stroke-width="1.4"/>
<rect x="281.20" y="1218.55" width="6.0" height="6.0" fill="none" stroke="#000" stroke-width="1.4"/>
<rect x="287.28" y="1218.55" width="6.0" height="6.0" fill="none" stroke="#000" stroke-width="1.4"/>
<rect x="293.35" y="1218.55" width="6.0" height="6.0" fill="none" stroke="#000" stroke-width="1.4"/>
<rect x="299.43" y="1218.55" width="6.0" height="6.0" fill="none" stroke="#000" stroke-width="1.4"/>
<rect x="305.51" y="1218.55" width="6.0" height="6.0" fill="none" stroke="#000" stroke-width="1.4"/>
<rect x="311.59" y="1218.55" width="6.0" height="6.0" fill="none" stroke="#000" stroke-width="1.4"/>
<rect x="257.44" y="1228.49" width="6.0" height="6.0" fill="none" stroke="#000" stroke-width="1.4"/>
<rect x="263.52" y="1228.49" width="6.0" height="6.0" fill="none" stroke="#000" stroke-width="1.4"/>
<rect x="269.60" y="1228.49" width="6.0" height="6.0" fill="none" stroke="#000" stroke-width="1.4"/>
<rect x="275.67" y="1228.49" width="6.0" height="6.0" fill="none" stroke="#000" stroke-width="1.4"/>
<rect x="293.35" y="1228.49" width="6.0" height="6.0" fill="none" stroke="#000" stroke-width="1.4"/>
<rect x="299.43" y="1228.49" width="6.0" height="6.0" fill="none" stroke="#000" stroke-width="1.4"/>
<rect x="305.51" y="1228.49" width="6.0" height="6.0" fill="none" stroke="#000" stroke-width="1.4"/>
<rect x="311.59" y="1228.49" width="6.0" height="6.0" fill="none" stroke="#000" stroke-width="1.4"/>
<rect x="269.60" y="1231.25" width="6.0" height="6.0" fill="none" stroke="#000" stroke-width="1.4"/>
<rect x="281.20" y="1231.25" width="6.0" height="6.0" fill="none" stroke="#000" stroke-width="1.4"/>
<rect x="288.38" y="1231.25" width="6.0" height="6.0" fill="none" stroke="#000" stroke-width="1.4"/>
<rect x="293.35" y="1231.25" width="6.0" height="6.0" fill="none" stroke="#000" stroke-width="1.4"/>
<rect x="299.43" y="1231.25" width="6.0" height="6.0" fill="none" stroke="#000" stroke-width="1.4"/>
<rect x="305.51" y="1231.25" width="6.0" height="6.0" fill="none" stroke="#000" stroke-width="1.4"/>
<rect x="263.52" y="1234.57" width="6.0" height="6.0" fill="none" stroke="#000" stroke-width="1.4"/>
<rect x="269.60" y="1234.57" width="6.0" height="6.0" fill="none" stroke="#000" stroke-width="1.4"/>
<rect x="275.67" y="1234.57" width="6.0" height="6.0" fill="none" stroke="#000" stroke-width="1.4"/>
<rect x="281.20" y="1234.57" width="6.0" height="6.0" fill="none" stroke="#000" stroke-width="1.4"/>
<rect x="288.38" y="1234.57" width="6.0" height="6.0" fill="none" stroke="#000" stroke-width="1.4"/>
<rect x="293.35" y="1234.57" width="6.0" height="6.0" fill="none" stroke="#000" stroke-width="1.4"/>
<rect x="299.43" y="1234.57" width="6.0" height="6.0" fill="none" stroke="#000" stroke-width="1.4"/>
<rect x="269.60" y="1238.99" width="6.0" height="6.0" fill="none" stroke="#000" stroke-width="1.4"/>
<rect x="275.67" y="1238.99" width="6.0" height="6.0" fill="none" stroke="#000" stroke-width="1.4"/>
<rect x="281.20" y="1238.99" width="6.0" height="6.0" fill="none" stroke="#000" stroke-width="1.4"/>
<rect x="288.38" y="1238.99" width="6.0" height="6.0" fill="none" stroke="#000" stroke-width="1.4"/>
<rect x="293.35" y="1238.99" width="6.0" height="6.0" fill="none" stroke="#000" stroke-width="1.4"/>
<rect x="305.51" y="1238.99" width="6.0" height="6.0" fill="none" stroke="#000" stroke-width="1.4"/>
<rect x="263.52" y="1241.20" width="6.0" height="6.0" fill="none" stroke="#000" stroke-width="1.4"/>
<rect x="269.60" y="1241.20" width="6.0" height="6.0" fill="none" stroke="#000" stroke-width="1.4"/>
<rect x="269.60" y="1243.96" width="6.0" height="6.0" fill="none" stroke="#000" stroke-width="1.4"/>
<rect x="281.20" y="1243.96" width="6.0" height="6.0" fill="none" stroke="#000" stroke-width="1.4"/>
<rect x="288.38" y="1243.96" width="6.0" height="6.0" fill="none" stroke="#000" stroke-width="1.4"/>
<rect x="293.35" y="1243.96" width="6.0" height="6.0" fill="none" stroke="#000" stroke-width="1.4"/>
<rect x="299.43" y="1243.96" width="6.0" height="6.0" fill="none" stroke="#000" stroke-width="1.4"/>
<rect x="288.38" y="1250.59" width="6.0" height="6.0" fill="none" stroke="#000" stroke-width="1.4"/>
<rect x="123.90" y="1150.90" width="77.50" height="57.50" fill="none" stroke="#000" stroke-width="4.2"/>
<line x1="123.90" y1="1177.80" x2="201.40" y2="1177.80" stroke="#000" stroke-width="4.4" stroke-linecap="butt"/>
<line x1="162.70" y1="1059.30" x2="162.70" y2="1150.90" stroke="#000" stroke-width="4.4" stroke-linecap="butt"/>
<line x1="162.70" y1="1208.40" x2="162.70" y2="1231.70" stroke="#000" stroke-width="4.4" stroke-linecap="butt"/>
<line x1="142.20" y1="1059.30" x2="183.20" y2="1059.30" stroke="#000" stroke-width="4.4" stroke-linecap="butt"/>
<line x1="142.20" y1="1231.70" x2="183.20" y2="1231.70" stroke="#000" stroke-width="4.4" stroke-linecap="butt"/>
<rect x="248.50" y="1196.70" width="78.70" height="30.00" fill="none" stroke="#000" stroke-width="4.2"/>
<line x1="248.50" y1="1209.00" x2="327.20" y2="1209.00" stroke="#000" stroke-width="4.4" stroke-linecap="butt"/>
<line x1="288.00" y1="1101.30" x2="288.00" y2="1196.70" stroke="#000" stroke-width="4.4" stroke-linecap="butt"/>
<line x1="288.00" y1="1226.70" x2="288.00" y2="1257.10" stroke="#000" stroke-width="4.4" stroke-linecap="butt"/>
<line x1="267.50" y1="1101.30" x2="308.50" y2="1101.30" stroke="#000" stroke-width="4.4" stroke-linecap="butt"/>
<line x1="267.50" y1="1257.10" x2="308.50" y2="1257.10" stroke="#000" stroke-width="4.4" stroke-linecap="butt"/>
<line x1="79.30" y1="1029.90" x2="79.30" y2="1325.50" stroke="#000" stroke-width="3.2" stroke-linecap="butt"/>
<line x1="77.70" y1="1323.90" x2="372.40" y2="1323.90" stroke="#000" stroke-width="3.2" stroke-linecap="butt"/>
<line x1="67.30" y1="1323.90" x2="79.30" y2="1323.90" stroke="#000" stroke-width="3.2" stroke-linecap="butt"/>
<text x="62.80" y="1333.26" font-size="24" font-weight="bold" text-anchor="end" >0</text>
<line x1="67.30" y1="1250.80" x2="79.30" y2="1250.80" stroke="#000" stroke-width="3.2" stroke-linecap="butt"/>
<text x="62.80" y="1260.16" font-size="24" font-weight="bold" text-anchor="end" >2</text>
<line x1="67.30" y1="1177.70" x2="79.30" y2="1177.70" stroke="#000" stroke-width="3.2" stroke-linecap="butt"/>
<text x="62.80" y="1187.06" font-size="24" font-weight="bold" text-anchor="end" >4</text>
<line x1="67.30" y1="1104.60" x2="79.30" y2="1104.60" stroke="#000" stroke-width="3.2" stroke-linecap="butt"/>
<text x="62.80" y="1113.96" font-size="24" font-weight="bold" text-anchor="end" >6</text>
<line x1="67.30" y1="1031.50" x2="79.30" y2="1031.50" stroke="#000" stroke-width="3.2" stroke-linecap="butt"/>
<text x="62.80" y="1040.86" font-size="24" font-weight="bold" text-anchor="end" >8</text>
<line x1="162.70" y1="1323.90" x2="162.70" y2="1335.90" stroke="#000" stroke-width="3.2" stroke-linecap="butt"/>
<line x1="288.00" y1="1323.90" x2="288.00" y2="1335.90" stroke="#000" stroke-width="3.2" stroke-linecap="butt"/>
<text x="36.00" y="1176.70" font-size="24" font-weight="bold" text-anchor="middle" transform="rotate(-90 36.00 1176.70)">Atherogenic index</text>
<text x="160.00" y="1356.00" font-size="19" font-weight="bold" text-anchor="middle" class="xl" letter-spacing="0.1">RA with CVE</text>
<text x="160.00" y="1377.10" font-size="19" font-weight="bold" text-anchor="middle" class="xl" letter-spacing="0.6">(n=19)</text>
<text x="302.40" y="1356.00" font-size="19" font-weight="bold" text-anchor="middle" class="xl" letter-spacing="0.1">RA without CVE</text>
<text x="302.40" y="1377.10" font-size="19" font-weight="bold" text-anchor="middle" class="xl" letter-spacing="0.6">(n=95)</text>
<line x1="162.40" y1="1045.30" x2="287.60" y2="1045.30" stroke="#000" stroke-width="3.2" stroke-linecap="butt"/>
<path d="M217.45,1018.60L217.45,1031.80M211.39,1021.70L223.51,1028.70M211.39,1028.70L223.51,1021.70" stroke="#000" stroke-width="3.4" fill="none"/>
<path d="M232.95,1018.60L232.95,1031.80M226.89,1021.70L239.01,1028.70M226.89,1028.70L239.01,1021.70" stroke="#000" stroke-width="3.4" fill="none"/>
<text x="513.20" y="988.50" font-size="38" textLength="180.0" lengthAdjust="spacing">(F) HDL-C</text>
<rect x="581.00" y="1199.80" width="77.70" height="28.10" fill="#f74345"/>
<rect x="705.60" y="1187.10" width="78.70" height="33.10" fill="#5b5bf2"/>
<circle cx="608.00" cy="1201.50" r="3.3" fill="none" stroke="#000" stroke-width="1.5"/>
<circle cx="620.00" cy="1205.70" r="3.3" fill="none" stroke="#000" stroke-width="1.5"/>
<circle cx="631.60" cy="1204.50" r="3.3" fill="none" stroke="#000" stroke-width="1.5"/>
<circle cx="643.30" cy="1203.20" r="3.3" fill="none" stroke="#000" stroke-width="1.5"/>
<circle cx="643.30" cy="1196.70" r="3.3" fill="none" stroke="#000" stroke-width="1.5"/>
<circle cx="631.60" cy="1231.20" r="3.3" fill="none" stroke="#000" stroke-width="1.5"/>
<circle cx="614.10" cy="1237.80" r="3.3" fill="none" stroke="#000" stroke-width="1.5"/>
<circle cx="625.80" cy="1237.80" r="3.3" fill="none" stroke="#000" stroke-width="1.5"/>
<circle cx="637.70" cy="1237.80" r="3.3" fill="none" stroke="#000" stroke-width="1.5"/>
<circle cx="620.00" cy="1225.00" r="3.3" fill="none" stroke="#000" stroke-width="1.5"/>
<circle cx="620.00" cy="1140.00" r="3.5" fill="#000"/>
<circle cx="620.00" cy="1169.20" r="3.5" fill="#000"/>
<circle cx="620.00" cy="1181.40" r="3.5" fill="#000"/>
<circle cx="620.00" cy="1188.20" r="3.5" fill="#000"/>
<circle cx="608.00" cy="1208.10" r="3.5" fill="#000"/>
<circle cx="608.00" cy="1229.30" r="3.5" fill="#000"/>
<circle cx="602.50" cy="1242.60" r="3.5" fill="#000"/>
<circle cx="596.40" cy="1226.80" r="3.5" fill="#000"/>
<circle cx="643.30" cy="1228.00" r="3.5" fill="#000"/>
<rect x="741.94" y="1122.41" width="6.0" height="6.0" fill="none" stroke="#000" stroke-width="1.4"/>
<rect x="741.94" y="1132.36" width="6.0" height="6.0" fill="none" stroke="#000" stroke-width="1.4"/>
<rect x="741.94" y="1142.30" width="6.0" height="6.0" fill="none" stroke="#000" stroke-width="1.4"/>
<rect x="731.23" y="1154.46" width="6.0" height="6.0" fill="none" stroke="#000" stroke-width="1.4"/>
<rect x="745.81" y="1155.01" width="6.0" height="6.0" fill="none" stroke="#000" stroke-width="1.4"/>
<rect x="752.55" y="1151.70" width="6.0" height="6.0" fill="none" stroke="#000" stroke-width="1.4"/>
<rect x="731.23" y="1160.87" width="6.0" height="6.0" fill="none" stroke="#000" stroke-width="1.4"/>
<rect x="738.41" y="1163.85" width="6.0" height="6.0" fill="none" stroke="#000" stroke-width="1.4"/>
<rect x="745.81" y="1163.30" width="6.0" height="6.0" fill="none" stroke="#000" stroke-width="1.4"/>
<rect x="752.55" y="1157.77" width="6.0" height="6.0" fill="none" stroke="#000" stroke-width="1.4"/>
<rect x="752.55" y="1164.18" width="6.0" height="6.0" fill="none" stroke="#000" stroke-width="1.4"/>
<rect x="710.23" y="1168.82" width="6.0" height="6.0" fill="none" stroke="#000" stroke-width="1.4"/>
<rect x="717.19" y="1172.14" width="6.0" height="6.0" fill="none" stroke="#000" stroke-width="1.4"/>
<rect x="724.38" y="1174.90" width="6.0" height="6.0" fill="none" stroke="#000" stroke-width="1.4"/>
<rect x="731.23" y="1176.56" width="6.0" height="6.0" fill="none" stroke="#000" stroke-width="1.4"/>
<rect x="738.41" y="1172.69" width="6.0" height="6.0" fill="none" stroke="#000" stroke-width="1.4"/>
<rect x="745.81" y="1170.48" width="6.0" height="6.0" fill="none" stroke="#000" stroke-width="1.4"/>
<rect x="752.55" y="1172.69" width="6.0" height="6.0" fill="none" stroke="#000" stroke-width="1.4"/>
<rect x="759.40" y="1176.56" width="6.0" height="6.0" fill="none" stroke="#000" stroke-width="1.4"/>
<rect x="766.59" y="1174.35" width="6.0" height="6.0" fill="none" stroke="#000" stroke-width="1.4"/>
<rect x="773.77" y="1172.14" width="6.0" height="6.0" fill="none" stroke="#000" stroke-width="1.4"/>
<rect x="773.77" y="1177.66" width="6.0" height="6.0" fill="none" stroke="#000" stroke-width="1.4"/>
<rect x="738.41" y="1178.55" width="6.0" height="6.0" fill="none" stroke="#000" stroke-width="1.4"/>
<rect x="710.23" y="1188.16" width="6.0" height="6.0" fill="none" stroke="#000" stroke-width="1.4"/>
<rect x="717.19" y="1188.16" width="6.0" height="6.0" fill="none" stroke="#000" stroke-width="1.4"/>
<rect x="724.38" y="1188.16" width="6.0" height="6.0" fill="none" stroke="#000" stroke-width="1.4"/>
<rect x="731.23" y="1188.16" width="6.0" height="6.0" fill="none" stroke="#000" stroke-width="1.4"/>
<rect x="738.41" y="1188.16" width="6.0" height="6.0" fill="none" stroke="#000" stroke-width="1.4"/>
<rect x="745.81" y="1188.16" width="6.0" height="6.0" fill="none" stroke="#000" stroke-width="1.4"/>
<rect x="752.55" y="1188.16" width="6.0" height="6.0" fill="none" stroke="#000" stroke-width="1.4"/>
<rect x="759.40" y="1188.16" width="6.0" height="6.0" fill="none" stroke="#000" stroke-width="1.4"/>
<rect x="773.77" y="1188.16" width="6.0" height="6.0" fill="none" stroke="#000" stroke-width="1.4"/>
<rect x="710.23" y="1195.34" width="6.0" height="6.0" fill="none" stroke="#000" stroke-width="1.4"/>
<rect x="717.19" y="1195.34" width="6.0" height="6.0" fill="none" stroke="#000" stroke-width="1.4"/>
<rect x="724.38" y="1195.34" width="6.0" height="6.0" fill="none" stroke="#000" stroke-width="1.4"/>
<rect x="738.41" y="1195.34" width="6.0" height="6.0" fill="none" stroke="#000" stroke-width="1.4"/>
<rect x="745.81" y="1195.34" width="6.0" height="6.0" fill="none" stroke="#000" stroke-width="1.4"/>
<rect x="752.55" y="1195.34" width="6.0" height="6.0" fill="none" stroke="#000" stroke-width="1.4"/>
<rect x="759.40" y="1195.34" width="6.0" height="6.0" fill="none" stroke="#000" stroke-width="1.4"/>
<rect x="766.59" y="1195.34" width="6.0" height="6.0" fill="none" stroke="#000" stroke-width="1.4"/>
<rect x="731.23" y="1190.92" width="6.0" height="6.0" fill="none" stroke="#000" stroke-width="1.4"/>
<rect x="717.19" y="1207.50" width="6.0" height="6.0" fill="none" stroke="#000" stroke-width="1.4"/>
<rect x="724.38" y="1207.50" width="6.0" height="6.0" fill="none" stroke="#000" stroke-width="1.4"/>
<rect x="731.23" y="1207.50" width="6.0" height="6.0" fill="none" stroke="#000" stroke-width="1.4"/>
<rect x="738.41" y="1207.50" width="6.0" height="6.0" fill="none" stroke="#000" stroke-width="1.4"/>
<rect x="745.81" y="1207.50" width="6.0" height="6.0" fill="none" stroke="#000" stroke-width="1.4"/>
<rect x="752.55" y="1207.50" width="6.0" height="6.0" fill="none" stroke="#000" stroke-width="1.4"/>
<rect x="759.40" y="1207.50" width="6.0" height="6.0" fill="none" stroke="#000" stroke-width="1.4"/>
<rect x="773.77" y="1207.50" width="6.0" height="6.0" fill="none" stroke="#000" stroke-width="1.4"/>
<rect x="710.23" y="1213.02" width="6.0" height="6.0" fill="none" stroke="#000" stroke-width="1.4"/>
<rect x="717.19" y="1213.02" width="6.0" height="6.0" fill="none" stroke="#000" stroke-width="1.4"/>
<rect x="724.38" y="1213.02" width="6.0" height="6.0" fill="none" stroke="#000" stroke-width="1.4"/>
<rect x="731.23" y="1213.02" width="6.0" height="6.0" fill="none" stroke="#000" stroke-width="1.4"/>
<rect x="738.41" y="1213.02" width="6.0" height="6.0" fill="none" stroke="#000" stroke-width="1.4"/>
<rect x="745.81" y="1213.02" width="6.0" height="6.0" fill="none" stroke="#000" stroke-width="1.4"/>
<rect x="752.55" y="1213.02" width="6.0" height="6.0" fill="none" stroke="#000" stroke-width="1.4"/>
<rect x="759.40" y="1213.02" width="6.0" height="6.0" fill="none" stroke="#000" stroke-width="1.4"/>
<rect x="766.59" y="1213.02" width="6.0" height="6.0" fill="none" stroke="#000" stroke-width="1.4"/>
<rect x="773.77" y="1213.02" width="6.0" height="6.0" fill="none" stroke="#000" stroke-width="1.4"/>
<rect x="731.23" y="1221.31" width="6.0" height="6.0" fill="none" stroke="#000" stroke-width="1.4"/>
<rect x="738.41" y="1222.41" width="6.0" height="6.0" fill="none" stroke="#000" stroke-width="1.4"/>
<rect x="745.81" y="1224.07" width="6.0" height="6.0" fill="none" stroke="#000" stroke-width="1.4"/>
<rect x="752.55" y="1222.97" width="6.0" height="6.0" fill="none" stroke="#000" stroke-width="1.4"/>
<rect x="759.40" y="1224.07" width="6.0" height="6.0" fill="none" stroke="#000" stroke-width="1.4"/>
<rect x="766.59" y="1225.18" width="6.0" height="6.0" fill="none" stroke="#000" stroke-width="1.4"/>
<rect x="710.23" y="1230.15" width="6.0" height="6.0" fill="none" stroke="#000" stroke-width="1.4"/>
<rect x="717.19" y="1226.83" width="6.0" height="6.0" fill="none" stroke="#000" stroke-width="1.4"/>
<rect x="724.38" y="1230.70" width="6.0" height="6.0" fill="none" stroke="#000" stroke-width="1.4"/>
<rect x="717.19" y="1235.12" width="6.0" height="6.0" fill="none" stroke="#000" stroke-width="1.4"/>
<rect x="724.38" y="1237.88" width="6.0" height="6.0" fill="none" stroke="#000" stroke-width="1.4"/>
<rect x="738.41" y="1232.36" width="6.0" height="6.0" fill="none" stroke="#000" stroke-width="1.4"/>
<rect x="745.81" y="1230.15" width="6.0" height="6.0" fill="none" stroke="#000" stroke-width="1.4"/>
<rect x="752.55" y="1229.04" width="6.0" height="6.0" fill="none" stroke="#000" stroke-width="1.4"/>
<rect x="759.40" y="1230.70" width="6.0" height="6.0" fill="none" stroke="#000" stroke-width="1.4"/>
<rect x="766.59" y="1232.36" width="6.0" height="6.0" fill="none" stroke="#000" stroke-width="1.4"/>
<rect x="773.77" y="1230.15" width="6.0" height="6.0" fill="none" stroke="#000" stroke-width="1.4"/>
<rect x="738.41" y="1238.44" width="6.0" height="6.0" fill="none" stroke="#000" stroke-width="1.4"/>
<rect x="745.81" y="1235.67" width="6.0" height="6.0" fill="none" stroke="#000" stroke-width="1.4"/>
<rect x="752.55" y="1234.57" width="6.0" height="6.0" fill="none" stroke="#000" stroke-width="1.4"/>
<rect x="738.41" y="1244.51" width="6.0" height="6.0" fill="none" stroke="#000" stroke-width="1.4"/>
<rect x="745.81" y="1242.86" width="6.0" height="6.0" fill="none" stroke="#000" stroke-width="1.4"/>
<rect x="731.23" y="1247.28" width="6.0" height="6.0" fill="none" stroke="#000" stroke-width="1.4"/>
<rect x="745.81" y="1248.93" width="6.0" height="6.0" fill="none" stroke="#000" stroke-width="1.4"/>
<rect x="752.55" y="1245.62" width="6.0" height="6.0" fill="none" stroke="#000" stroke-width="1.4"/>
<rect x="759.40" y="1246.72" width="6.0" height="6.0" fill="none" stroke="#000" stroke-width="1.4"/>
<rect x="581.00" y="1199.80" width="77.70" height="28.10" fill="none" stroke="#000" stroke-width="4.2"/>
<line x1="581.00" y1="1207.40" x2="658.70" y2="1207.40" stroke="#000" stroke-width="4.4" stroke-linecap="butt"/>
<line x1="620.00" y1="1140.00" x2="620.00" y2="1199.80" stroke="#000" stroke-width="4.4" stroke-linecap="butt"/>
<line x1="620.00" y1="1227.90" x2="620.00" y2="1242.60" stroke="#000" stroke-width="4.4" stroke-linecap="butt"/>
<line x1="599.50" y1="1140.00" x2="640.50" y2="1140.00" stroke="#000" stroke-width="4.4" stroke-linecap="butt"/>
<line x1="599.50" y1="1242.60" x2="640.50" y2="1242.60" stroke="#000" stroke-width="4.4" stroke-linecap="butt"/>
<rect x="705.60" y="1187.10" width="78.70" height="33.10" fill="none" stroke="#000" stroke-width="4.2"/>
<line x1="705.60" y1="1203.40" x2="784.30" y2="1203.40" stroke="#000" stroke-width="4.4" stroke-linecap="butt"/>
<line x1="745.00" y1="1118.40" x2="745.00" y2="1187.10" stroke="#000" stroke-width="4.4" stroke-linecap="butt"/>
<line x1="745.00" y1="1220.20" x2="745.00" y2="1284.90" stroke="#000" stroke-width="4.4" stroke-linecap="butt"/>
<line x1="724.50" y1="1118.40" x2="765.50" y2="1118.40" stroke="#000" stroke-width="4.4" stroke-linecap="butt"/>
<line x1="724.50" y1="1284.90" x2="765.50" y2="1284.90" stroke="#000" stroke-width="4.4" stroke-linecap="butt"/>
<line x1="536.10" y1="1029.80" x2="536.10" y2="1325.20" stroke="#000" stroke-width="3.2" stroke-linecap="butt"/>
<line x1="534.50" y1="1323.60" x2="829.60" y2="1323.60" stroke="#000" stroke-width="3.2" stroke-linecap="butt"/>
<line x1="524.10" y1="1323.60" x2="536.10" y2="1323.60" stroke="#000" stroke-width="3.2" stroke-linecap="butt"/>
<text x="519.60" y="1332.96" font-size="24" font-weight="bold" text-anchor="end" >0</text>
<line x1="524.10" y1="1226.20" x2="536.10" y2="1226.20" stroke="#000" stroke-width="3.2" stroke-linecap="butt"/>
<text x="519.60" y="1235.56" font-size="24" font-weight="bold" text-anchor="end" >50</text>
<line x1="524.10" y1="1128.80" x2="536.10" y2="1128.80" stroke="#000" stroke-width="3.2" stroke-linecap="butt"/>
<text x="519.60" y="1138.16" font-size="24" font-weight="bold" text-anchor="end" >100</text>
<line x1="524.10" y1="1031.40" x2="536.10" y2="1031.40" stroke="#000" stroke-width="3.2" stroke-linecap="butt"/>
<text x="519.60" y="1040.76" font-size="24" font-weight="bold" text-anchor="end" >150</text>
<line x1="620.00" y1="1323.60" x2="620.00" y2="1335.60" stroke="#000" stroke-width="3.2" stroke-linecap="butt"/>
<line x1="745.00" y1="1323.60" x2="745.00" y2="1335.60" stroke="#000" stroke-width="3.2" stroke-linecap="butt"/>
<text x="466.50" y="1175.00" font-size="24" font-weight="bold" text-anchor="middle" transform="rotate(-90 466.50 1175.00)">HDL-C (mg/dL)</text>
<text x="607.70" y="1356.00" font-size="19" font-weight="bold" text-anchor="middle" class="xl" letter-spacing="0.1">RA with CVE</text>
<text x="607.70" y="1377.10" font-size="19" font-weight="bold" text-anchor="middle" class="xl" letter-spacing="0.6">(n=19)</text>
<text x="751.00" y="1356.00" font-size="19" font-weight="bold" text-anchor="middle" class="xl" letter-spacing="0.1">RA without CVE</text>
<text x="751.00" y="1377.10" font-size="19" font-weight="bold" text-anchor="middle" class="xl" letter-spacing="0.6">(n=95)</text>
<text x="50.00" y="1435.70" font-size="38" textLength="442.0" lengthAdjust="spacing">(G) RC (NMR-measured)</text>
<rect x="123.90" y="1548.70" width="77.50" height="70.50" fill="#f74345"/>
<rect x="248.50" y="1603.70" width="78.30" height="43.70" fill="#5b5bf2"/>
<circle cx="162.70" cy="1551.70" r="3.3" fill="none" stroke="#000" stroke-width="1.5"/>
<circle cx="162.70" cy="1576.00" r="3.3" fill="none" stroke="#000" stroke-width="1.5"/>
<circle cx="162.70" cy="1594.80" r="3.3" fill="none" stroke="#000" stroke-width="1.5"/>
<circle cx="168.60" cy="1601.40" r="3.3" fill="none" stroke="#000" stroke-width="1.5"/>
<circle cx="156.70" cy="1606.50" r="3.3" fill="none" stroke="#000" stroke-width="1.5"/>
<circle cx="156.70" cy="1624.60" r="3.3" fill="none" stroke="#000" stroke-width="1.5"/>
<circle cx="162.70" cy="1509.70" r="3.5" fill="#000"/>
<circle cx="162.70" cy="1532.90" r="3.5" fill="#000"/>
<circle cx="162.70" cy="1542.40" r="3.5" fill="#000"/>
<circle cx="162.70" cy="1631.70" r="3.5" fill="#000"/>
<circle cx="162.70" cy="1653.30" r="3.5" fill="#000"/>
<circle cx="168.60" cy="1620.20" r="3.5" fill="#000"/>
<rect x="284.51" y="1539.10" width="6.0" height="6.0" fill="none" stroke="#000" stroke-width="1.4"/>
<rect x="284.51" y="1547.94" width="6.0" height="6.0" fill="none" stroke="#000" stroke-width="1.4"/>
<rect x="284.51" y="1555.67" width="6.0" height="6.0" fill="none" stroke="#000" stroke-width="1.4"/>
<rect x="284.51" y="1564.51" width="6.0" height="6.0" fill="none" stroke="#000" stroke-width="1.4"/>
<rect x="284.51" y="1572.25" width="6.0" height="6.0" fill="none" stroke="#000" stroke-width="1.4"/>
<rect x="276.45" y="1555.12" width="6.0" height="6.0" fill="none" stroke="#000" stroke-width="1.4"/>
<rect x="291.70" y="1552.36" width="6.0" height="6.0" fill="none" stroke="#000" stroke-width="1.4"/>
<rect x="268.71" y="1563.41" width="6.0" height="6.0" fill="none" stroke="#000" stroke-width="1.4"/>
<rect x="276.45" y="1562.30" width="6.0" height="6.0" fill="none" stroke="#000" stroke-width="1.4"/>
<rect x="291.70" y="1564.51" width="6.0" height="6.0" fill="none" stroke="#000" stroke-width="1.4"/>
<rect x="299.76" y="1561.20" width="6.0" height="6.0" fill="none" stroke="#000" stroke-width="1.4"/>
<rect x="276.45" y="1580.87" width="6.0" height="6.0" fill="none" stroke="#000" stroke-width="1.4"/>
<rect x="291.70" y="1579.43" width="6.0" height="6.0" fill="none" stroke="#000" stroke-width="1.4"/>
<rect x="276.45" y="1589.93" width="6.0" height="6.0" fill="none" stroke="#000" stroke-width="1.4"/>
<rect x="291.70" y="1586.61" width="6.0" height="6.0" fill="none" stroke="#000" stroke-width="1.4"/>
<rect x="291.70" y="1592.69" width="6.0" height="6.0" fill="none" stroke="#000" stroke-width="1.4"/>
<rect x="307.50" y="1595.67" width="6.0" height="6.0" fill="none" stroke="#000" stroke-width="1.4"/>
<rect x="268.71" y="1602.08" width="6.0" height="6.0" fill="none" stroke="#000" stroke-width="1.4"/>
<rect x="276.45" y="1602.08" width="6.0" height="6.0" fill="none" stroke="#000" stroke-width="1.4"/>
<rect x="284.51" y="1602.64" width="6.0" height="6.0" fill="none" stroke="#000" stroke-width="1.4"/>
<rect x="291.70" y="1600.98" width="6.0" height="6.0" fill="none" stroke="#000" stroke-width="1.4"/>
<rect x="299.76" y="1601.53" width="6.0" height="6.0" fill="none" stroke="#000" stroke-width="1.4"/>
<rect x="268.71" y="1610.92" width="6.0" height="6.0" fill="none" stroke="#000" stroke-width="1.4"/>
<rect x="276.45" y="1608.16" width="6.0" height="6.0" fill="none" stroke="#000" stroke-width="1.4"/>
<rect x="284.51" y="1609.82" width="6.0" height="6.0" fill="none" stroke="#000" stroke-width="1.4"/>
<rect x="291.70" y="1610.37" width="6.0" height="6.0" fill="none" stroke="#000" stroke-width="1.4"/>
<rect x="276.45" y="1614.24" width="6.0" height="6.0" fill="none" stroke="#000" stroke-width="1.4"/>
<rect x="299.76" y="1614.24" width="6.0" height="6.0" fill="none" stroke="#000" stroke-width="1.4"/>
<rect x="268.71" y="1621.97" width="6.0" height="6.0" fill="none" stroke="#000" stroke-width="1.4"/>
<rect x="276.45" y="1620.31" width="6.0" height="6.0" fill="none" stroke="#000" stroke-width="1.4"/>
<rect x="284.51" y="1618.66" width="6.0" height="6.0" fill="none" stroke="#000" stroke-width="1.4"/>
<rect x="291.70" y="1621.42" width="6.0" height="6.0" fill="none" stroke="#000" stroke-width="1.4"/>
<rect x="299.76" y="1622.52" width="6.0" height="6.0" fill="none" stroke="#000" stroke-width="1.4"/>
<rect x="276.45" y="1626.39" width="6.0" height="6.0" fill="none" stroke="#000" stroke-width="1.4"/>
<rect x="253.02" y="1633.57" width="6.0" height="6.0" fill="none" stroke="#000" stroke-width="1.4"/>
<rect x="260.76" y="1633.57" width="6.0" height="6.0" fill="none" stroke="#000" stroke-width="1.4"/>
<rect x="268.71" y="1633.57" width="6.0" height="6.0" fill="none" stroke="#000" stroke-width="1.4"/>
<rect x="276.45" y="1633.57" width="6.0" height="6.0" fill="none" stroke="#000" stroke-width="1.4"/>
<rect x="284.51" y="1633.57" width="6.0" height="6.0" fill="none" stroke="#000" stroke-width="1.4"/>
<rect x="291.70" y="1633.57" width="6.0" height="6.0" fill="none" stroke="#000" stroke-width="1.4"/>
<rect x="299.76" y="1633.57" width="6.0" height="6.0" fill="none" stroke="#000" stroke-width="1.4"/>
<rect x="307.50" y="1633.57" width="6.0" height="6.0" fill="none" stroke="#000" stroke-width="1.4"/>
<rect x="315.45" y="1633.57" width="6.0" height="6.0" fill="none" stroke="#000" stroke-width="1.4"/>
<rect x="268.71" y="1641.86" width="6.0" height="6.0" fill="none" stroke="#000" stroke-width="1.4"/>
<rect x="276.45" y="1641.86" width="6.0" height="6.0" fill="none" stroke="#000" stroke-width="1.4"/>
<rect x="284.51" y="1642.97" width="6.0" height="6.0" fill="none" stroke="#000" stroke-width="1.4"/>
<rect x="291.70" y="1641.86" width="6.0" height="6.0" fill="none" stroke="#000" stroke-width="1.4"/>
<rect x="299.76" y="1639.10" width="6.0" height="6.0" fill="none" stroke="#000" stroke-width="1.4"/>
<rect x="307.50" y="1639.65" width="6.0" height="6.0" fill="none" stroke="#000" stroke-width="1.4"/>
<rect x="260.76" y="1650.70" width="6.0" height="6.0" fill="none" stroke="#000" stroke-width="1.4"/>
<rect x="260.76" y="1657.33" width="6.0" height="6.0" fill="none" stroke="#000" stroke-width="1.4"/>
<rect x="268.71" y="1656.78" width="6.0" height="6.0" fill="none" stroke="#000" stroke-width="1.4"/>
<rect x="268.71" y="1663.41" width="6.0" height="6.0" fill="none" stroke="#000" stroke-width="1.4"/>
<rect x="276.45" y="1662.86" width="6.0" height="6.0" fill="none" stroke="#000" stroke-width="1.4"/>
<rect x="291.70" y="1651.81" width="6.0" height="6.0" fill="none" stroke="#000" stroke-width="1.4"/>
<rect x="299.76" y="1654.57" width="6.0" height="6.0" fill="none" stroke="#000" stroke-width="1.4"/>
<rect x="307.50" y="1655.12" width="6.0" height="6.0" fill="none" stroke="#000" stroke-width="1.4"/>
<rect x="291.70" y="1662.30" width="6.0" height="6.0" fill="none" stroke="#000" stroke-width="1.4"/>
<rect x="299.76" y="1660.65" width="6.0" height="6.0" fill="none" stroke="#000" stroke-width="1.4"/>
<rect x="307.50" y="1649.04" width="6.0" height="6.0" fill="none" stroke="#000" stroke-width="1.4"/>
<rect x="276.45" y="1673.91" width="6.0" height="6.0" fill="none" stroke="#000" stroke-width="1.4"/>
<rect x="291.70" y="1677.22" width="6.0" height="6.0" fill="none" stroke="#000" stroke-width="1.4"/>
<rect x="268.71" y="1680.54" width="6.0" height="6.0" fill="none" stroke="#000" stroke-width="1.4"/>
<rect x="299.76" y="1681.64" width="6.0" height="6.0" fill="none" stroke="#000" stroke-width="1.4"/>
<rect x="284.51" y="1652.91" width="6.0" height="6.0" fill="none" stroke="#000" stroke-width="1.4"/>
<rect x="284.51" y="1659.54" width="6.0" height="6.0" fill="none" stroke="#000" stroke-width="1.4"/>
<rect x="284.51" y="1666.17" width="6.0" height="6.0" fill="none" stroke="#000" stroke-width="1.4"/>
<rect x="284.51" y="1672.80" width="6.0" height="6.0" fill="none" stroke="#000" stroke-width="1.4"/>
<rect x="123.90" y="1548.70" width="77.50" height="70.50" fill="none" stroke="#000" stroke-width="4.2"/>
<line x1="123.90" y1="1597.60" x2="201.40" y2="1597.60" stroke="#000" stroke-width="4.4" stroke-linecap="butt"/>
<line x1="162.70" y1="1509.70" x2="162.70" y2="1548.70" stroke="#000" stroke-width="4.4" stroke-linecap="butt"/>
<line x1="162.70" y1="1619.20" x2="162.70" y2="1652.70" stroke="#000" stroke-width="4.4" stroke-linecap="butt"/>
<line x1="142.20" y1="1509.70" x2="183.20" y2="1509.70" stroke="#000" stroke-width="4.4" stroke-linecap="butt"/>
<line x1="142.20" y1="1652.70" x2="183.20" y2="1652.70" stroke="#000" stroke-width="4.4" stroke-linecap="butt"/>
<rect x="248.50" y="1603.70" width="78.30" height="43.70" fill="none" stroke="#000" stroke-width="4.2"/>
<line x1="248.50" y1="1632.60" x2="326.80" y2="1632.60" stroke="#000" stroke-width="4.4" stroke-linecap="butt"/>
<line x1="287.60" y1="1531.10" x2="287.60" y2="1603.70" stroke="#000" stroke-width="4.4" stroke-linecap="butt"/>
<line x1="287.60" y1="1647.40" x2="287.60" y2="1684.70" stroke="#000" stroke-width="4.4" stroke-linecap="butt"/>
<line x1="267.10" y1="1531.10" x2="308.10" y2="1531.10" stroke="#000" stroke-width="4.4" stroke-linecap="butt"/>
<line x1="267.10" y1="1684.70" x2="308.10" y2="1684.70" stroke="#000" stroke-width="4.4" stroke-linecap="butt"/>
<line x1="79.30" y1="1468.30" x2="79.30" y2="1763.60" stroke="#000" stroke-width="3.2" stroke-linecap="butt"/>
<line x1="77.70" y1="1762.00" x2="372.80" y2="1762.00" stroke="#000" stroke-width="3.2" stroke-linecap="butt"/>
<line x1="67.30" y1="1762.00" x2="79.30" y2="1762.00" stroke="#000" stroke-width="3.2" stroke-linecap="butt"/>
<text x="62.80" y="1771.36" font-size="24" font-weight="bold" text-anchor="end" >0</text>
<line x1="67.30" y1="1664.63" x2="79.30" y2="1664.63" stroke="#000" stroke-width="3.2" stroke-linecap="butt"/>
<text x="62.80" y="1673.99" font-size="24" font-weight="bold" text-anchor="end" >1</text>
<line x1="67.30" y1="1567.27" x2="79.30" y2="1567.27" stroke="#000" stroke-width="3.2" stroke-linecap="butt"/>
<text x="62.80" y="1576.63" font-size="24" font-weight="bold" text-anchor="end" >2</text>
<line x1="67.30" y1="1469.90" x2="79.30" y2="1469.90" stroke="#000" stroke-width="3.2" stroke-linecap="butt"/>
<text x="62.80" y="1479.26" font-size="24" font-weight="bold" text-anchor="end" >3</text>
<line x1="162.70" y1="1762.00" x2="162.70" y2="1774.00" stroke="#000" stroke-width="3.2" stroke-linecap="butt"/>
<line x1="287.60" y1="1762.00" x2="287.60" y2="1774.00" stroke="#000" stroke-width="3.2" stroke-linecap="butt"/>
<text x="38.00" y="1613.80" font-size="24" font-weight="bold" text-anchor="middle" transform="rotate(-90 38.00 1613.80)">RC (mmol/L)</text>
<text x="159.20" y="1793.00" font-size="19" font-weight="bold" text-anchor="middle" class="xl" letter-spacing="0.1">RA with CVE</text>
<text x="159.20" y="1814.30" font-size="19" font-weight="bold" text-anchor="middle" class="xl" letter-spacing="0.6">(n=12)</text>
<text x="301.90" y="1793.00" font-size="19" font-weight="bold" text-anchor="middle" class="xl" letter-spacing="0.1">RA without CVE</text>
<text x="301.90" y="1814.30" font-size="19" font-weight="bold" text-anchor="middle" class="xl" letter-spacing="0.6">(n=77)</text>
<line x1="162.20" y1="1490.30" x2="288.60" y2="1490.30" stroke="#000" stroke-width="4.5" stroke-linecap="butt"/>
<path d="M225.60,1464.25L225.60,1476.75M219.86,1467.19L231.34,1473.81M219.86,1473.81L231.34,1467.19" stroke="#000" stroke-width="3.4" fill="none"/>
<text x="532.00" y="1435.60" font-size="38" textLength="321.0" lengthAdjust="spacing">(H) RC correlation</text>
<circle cx="537.81" cy="1606.07" r="3.5" fill="#000"/>
<circle cx="594.56" cy="1571.07" r="3.5" fill="#000"/>
<circle cx="667.22" cy="1553.83" r="3.5" fill="#000"/>
<circle cx="700.10" cy="1572.13" r="3.5" fill="#000"/>
<circle cx="629.30" cy="1580.08" r="3.5" fill="#000"/>
<circle cx="598.54" cy="1587.51" r="3.5" fill="#000"/>
<circle cx="678.09" cy="1587.51" r="3.5" fill="#000"/>
<circle cx="635.66" cy="1592.81" r="3.5" fill="#000"/>
<circle cx="656.35" cy="1592.28" r="3.5" fill="#000"/>
<circle cx="662.98" cy="1590.69" r="3.5" fill="#000"/>
<circle cx="586.07" cy="1598.65" r="3.5" fill="#000"/>
<circle cx="596.15" cy="1601.30" r="3.5" fill="#000"/>
<circle cx="620.55" cy="1597.59" r="3.5" fill="#000"/>
<circle cx="646.53" cy="1600.24" r="3.5" fill="#000"/>
<circle cx="659.79" cy="1599.44" r="3.5" fill="#000"/>
<circle cx="692.15" cy="1607.40" r="3.5" fill="#000"/>
<circle cx="584.22" cy="1613.50" r="3.5" fill="#000"/>
<circle cx="632.74" cy="1612.17" r="3.5" fill="#000"/>
<circle cx="641.23" cy="1618.01" r="3.5" fill="#000"/>
<circle cx="644.41" cy="1620.66" r="3.5" fill="#000"/>
<circle cx="626.65" cy="1621.19" r="3.5" fill="#000"/>
<circle cx="567.24" cy="1626.76" r="3.5" fill="#000"/>
<circle cx="575.47" cy="1629.14" r="3.5" fill="#000"/>
<circle cx="586.07" cy="1628.61" r="3.5" fill="#000"/>
<circle cx="588.72" cy="1630.47" r="3.5" fill="#000"/>
<circle cx="596.68" cy="1635.24" r="3.5" fill="#000"/>
<circle cx="601.45" cy="1629.94" r="3.5" fill="#000"/>
<circle cx="605.43" cy="1622.51" r="3.5" fill="#000"/>
<circle cx="609.94" cy="1626.76" r="3.5" fill="#000"/>
<circle cx="611.80" cy="1631.26" r="3.5" fill="#000"/>
<circle cx="672.26" cy="1626.76" r="3.5" fill="#000"/>
<circle cx="564.33" cy="1637.89" r="3.5" fill="#000"/>
<circle cx="580.24" cy="1640.02" r="3.5" fill="#000"/>
<circle cx="615.24" cy="1640.02" r="3.5" fill="#000"/>
<circle cx="623.20" cy="1637.10" r="3.5" fill="#000"/>
<circle cx="630.36" cy="1631.80" r="3.5" fill="#000"/>
<circle cx="627.71" cy="1637.36" r="3.5" fill="#000"/>
<circle cx="592.70" cy="1644.52" r="3.5" fill="#000"/>
<circle cx="566.18" cy="1645.85" r="3.5" fill="#000"/>
<circle cx="583.95" cy="1645.85" r="3.5" fill="#000"/>
<circle cx="599.33" cy="1643.20" r="3.5" fill="#000"/>
<circle cx="603.31" cy="1645.32" r="3.5" fill="#000"/>
<circle cx="634.34" cy="1643.20" r="3.5" fill="#000"/>
<circle cx="634.87" cy="1645.32" r="3.5" fill="#000"/>
<circle cx="627.44" cy="1645.32" r="3.5" fill="#000"/>
<circle cx="648.13" cy="1651.68" r="3.5" fill="#000"/>
<circle cx="655.55" cy="1656.46" r="3.5" fill="#000"/>
<circle cx="662.98" cy="1653.27" r="3.5" fill="#000"/>
<circle cx="639.11" cy="1654.60" r="3.5" fill="#000"/>
<circle cx="564.33" cy="1654.34" r="3.5" fill="#000"/>
<circle cx="581.56" cy="1653.81" r="3.5" fill="#000"/>
<circle cx="587.40" cy="1655.13" r="3.5" fill="#000"/>
<circle cx="594.03" cy="1655.13" r="3.5" fill="#000"/>
<circle cx="601.98" cy="1652.48" r="3.5" fill="#000"/>
<circle cx="584.75" cy="1658.58" r="3.5" fill="#000"/>
<circle cx="588.19" cy="1660.43" r="3.5" fill="#000"/>
<circle cx="588.72" cy="1663.09" r="3.5" fill="#000"/>
<circle cx="601.98" cy="1660.43" r="3.5" fill="#000"/>
<circle cx="609.94" cy="1658.31" r="3.5" fill="#000"/>
<circle cx="613.92" cy="1664.41" r="3.5" fill="#000"/>
<circle cx="621.08" cy="1656.46" r="3.5" fill="#000"/>
<circle cx="624.52" cy="1655.13" r="3.5" fill="#000"/>
<circle cx="571.49" cy="1662.29" r="3.5" fill="#000"/>
<circle cx="594.56" cy="1663.62" r="3.5" fill="#000"/>
<circle cx="582.36" cy="1667.59" r="3.5" fill="#000"/>
<circle cx="578.12" cy="1669.72" r="3.5" fill="#000"/>
<circle cx="574.14" cy="1672.37" r="3.5" fill="#000"/>
<circle cx="567.51" cy="1670.25" r="3.5" fill="#000"/>
<circle cx="584.75" cy="1676.35" r="3.5" fill="#000"/>
<circle cx="588.72" cy="1675.02" r="3.5" fill="#000"/>
<circle cx="582.09" cy="1681.12" r="3.5" fill="#000"/>
<circle cx="587.40" cy="1679.00" r="3.5" fill="#000"/>
<circle cx="591.38" cy="1674.22" r="3.5" fill="#000"/>
<circle cx="605.96" cy="1668.92" r="3.5" fill="#000"/>
<circle cx="607.82" cy="1672.37" r="3.5" fill="#000"/>
<circle cx="606.76" cy="1679.53" r="3.5" fill="#000"/>
<circle cx="635.40" cy="1675.82" r="3.5" fill="#000"/>
<circle cx="564.33" cy="1679.00" r="3.5" fill="#000"/>
<circle cx="570.69" cy="1686.95" r="3.5" fill="#000"/>
<circle cx="590.32" cy="1688.81" r="3.5" fill="#000"/>
<circle cx="595.35" cy="1693.58" r="3.5" fill="#000"/>
<circle cx="605.96" cy="1693.05" r="3.5" fill="#000"/>
<circle cx="729.7" cy="1580.3" r="3.5" fill="#000"/>
<circle cx="854.4" cy="1621.9" r="3.5" fill="#000"/>
<line x1="536.20" y1="1521.30" x2="536.20" y2="1757.10" stroke="#000" stroke-width="2.4" stroke-linecap="butt"/>
<line x1="535.00" y1="1755.90" x2="888.20" y2="1755.90" stroke="#000" stroke-width="2.4" stroke-linecap="butt"/>
<line x1="527.20" y1="1755.90" x2="536.20" y2="1755.90" stroke="#000" stroke-width="2.4" stroke-linecap="butt"/>
<text x="523.70" y="1762.10" font-size="17" font-weight="bold" text-anchor="end" >0</text>
<line x1="527.20" y1="1678.10" x2="536.20" y2="1678.10" stroke="#000" stroke-width="2.4" stroke-linecap="butt"/>
<text x="523.70" y="1684.30" font-size="17" font-weight="bold" text-anchor="end" >1</text>
<line x1="527.20" y1="1600.30" x2="536.20" y2="1600.30" stroke="#000" stroke-width="2.4" stroke-linecap="butt"/>
<text x="523.70" y="1606.50" font-size="17" font-weight="bold" text-anchor="end" >2</text>
<line x1="527.20" y1="1522.50" x2="536.20" y2="1522.50" stroke="#000" stroke-width="2.4" stroke-linecap="butt"/>
<text x="523.70" y="1528.70" font-size="17" font-weight="bold" text-anchor="end" >3</text>
<line x1="536.20" y1="1755.90" x2="536.20" y2="1765.40" stroke="#000" stroke-width="2.4" stroke-linecap="butt"/>
<text x="536.20" y="1785.30" font-size="17.3" font-weight="bold" text-anchor="middle" >0</text>
<line x1="606.36" y1="1755.90" x2="606.36" y2="1765.40" stroke="#000" stroke-width="2.4" stroke-linecap="butt"/>
<text x="606.36" y="1785.30" font-size="17.3" font-weight="bold" text-anchor="middle" >20</text>
<line x1="676.52" y1="1755.90" x2="676.52" y2="1765.40" stroke="#000" stroke-width="2.4" stroke-linecap="butt"/>
<text x="676.52" y="1785.30" font-size="17.3" font-weight="bold" text-anchor="middle" >40</text>
<line x1="746.68" y1="1755.90" x2="746.68" y2="1765.40" stroke="#000" stroke-width="2.4" stroke-linecap="butt"/>
<text x="746.68" y="1785.30" font-size="17.3" font-weight="bold" text-anchor="middle" >60</text>
<line x1="816.84" y1="1755.90" x2="816.84" y2="1765.40" stroke="#000" stroke-width="2.4" stroke-linecap="butt"/>
<text x="816.84" y="1785.30" font-size="17.3" font-weight="bold" text-anchor="middle" >80</text>
<line x1="887.00" y1="1755.90" x2="887.00" y2="1765.40" stroke="#000" stroke-width="2.4" stroke-linecap="butt"/>
<text x="887.00" y="1785.30" font-size="17.3" font-weight="bold" text-anchor="middle" >100</text>
<text x="711.80" y="1812.90" font-size="19.3" font-weight="bold" text-anchor="middle" >Calculated RC (mg/dL)</text>
<text x="500.8" y="1638" font-size="19.5" font-weight="bold" text-anchor="middle" transform="rotate(-90 500.8 1638)">NMR-Measured RC (mmol/l)</text>
<text x="853.00" y="1559.40" font-size="18.4" font-weight="normal" text-anchor="end" letter-spacing="2">r=0.4365</text>
<text x="855.50" y="1583.20" font-size="18.4" font-weight="normal" text-anchor="end" letter-spacing="2"><tspan font-style="italic">p</tspan>&lt;0.0001</text>
</svg></body></html>
